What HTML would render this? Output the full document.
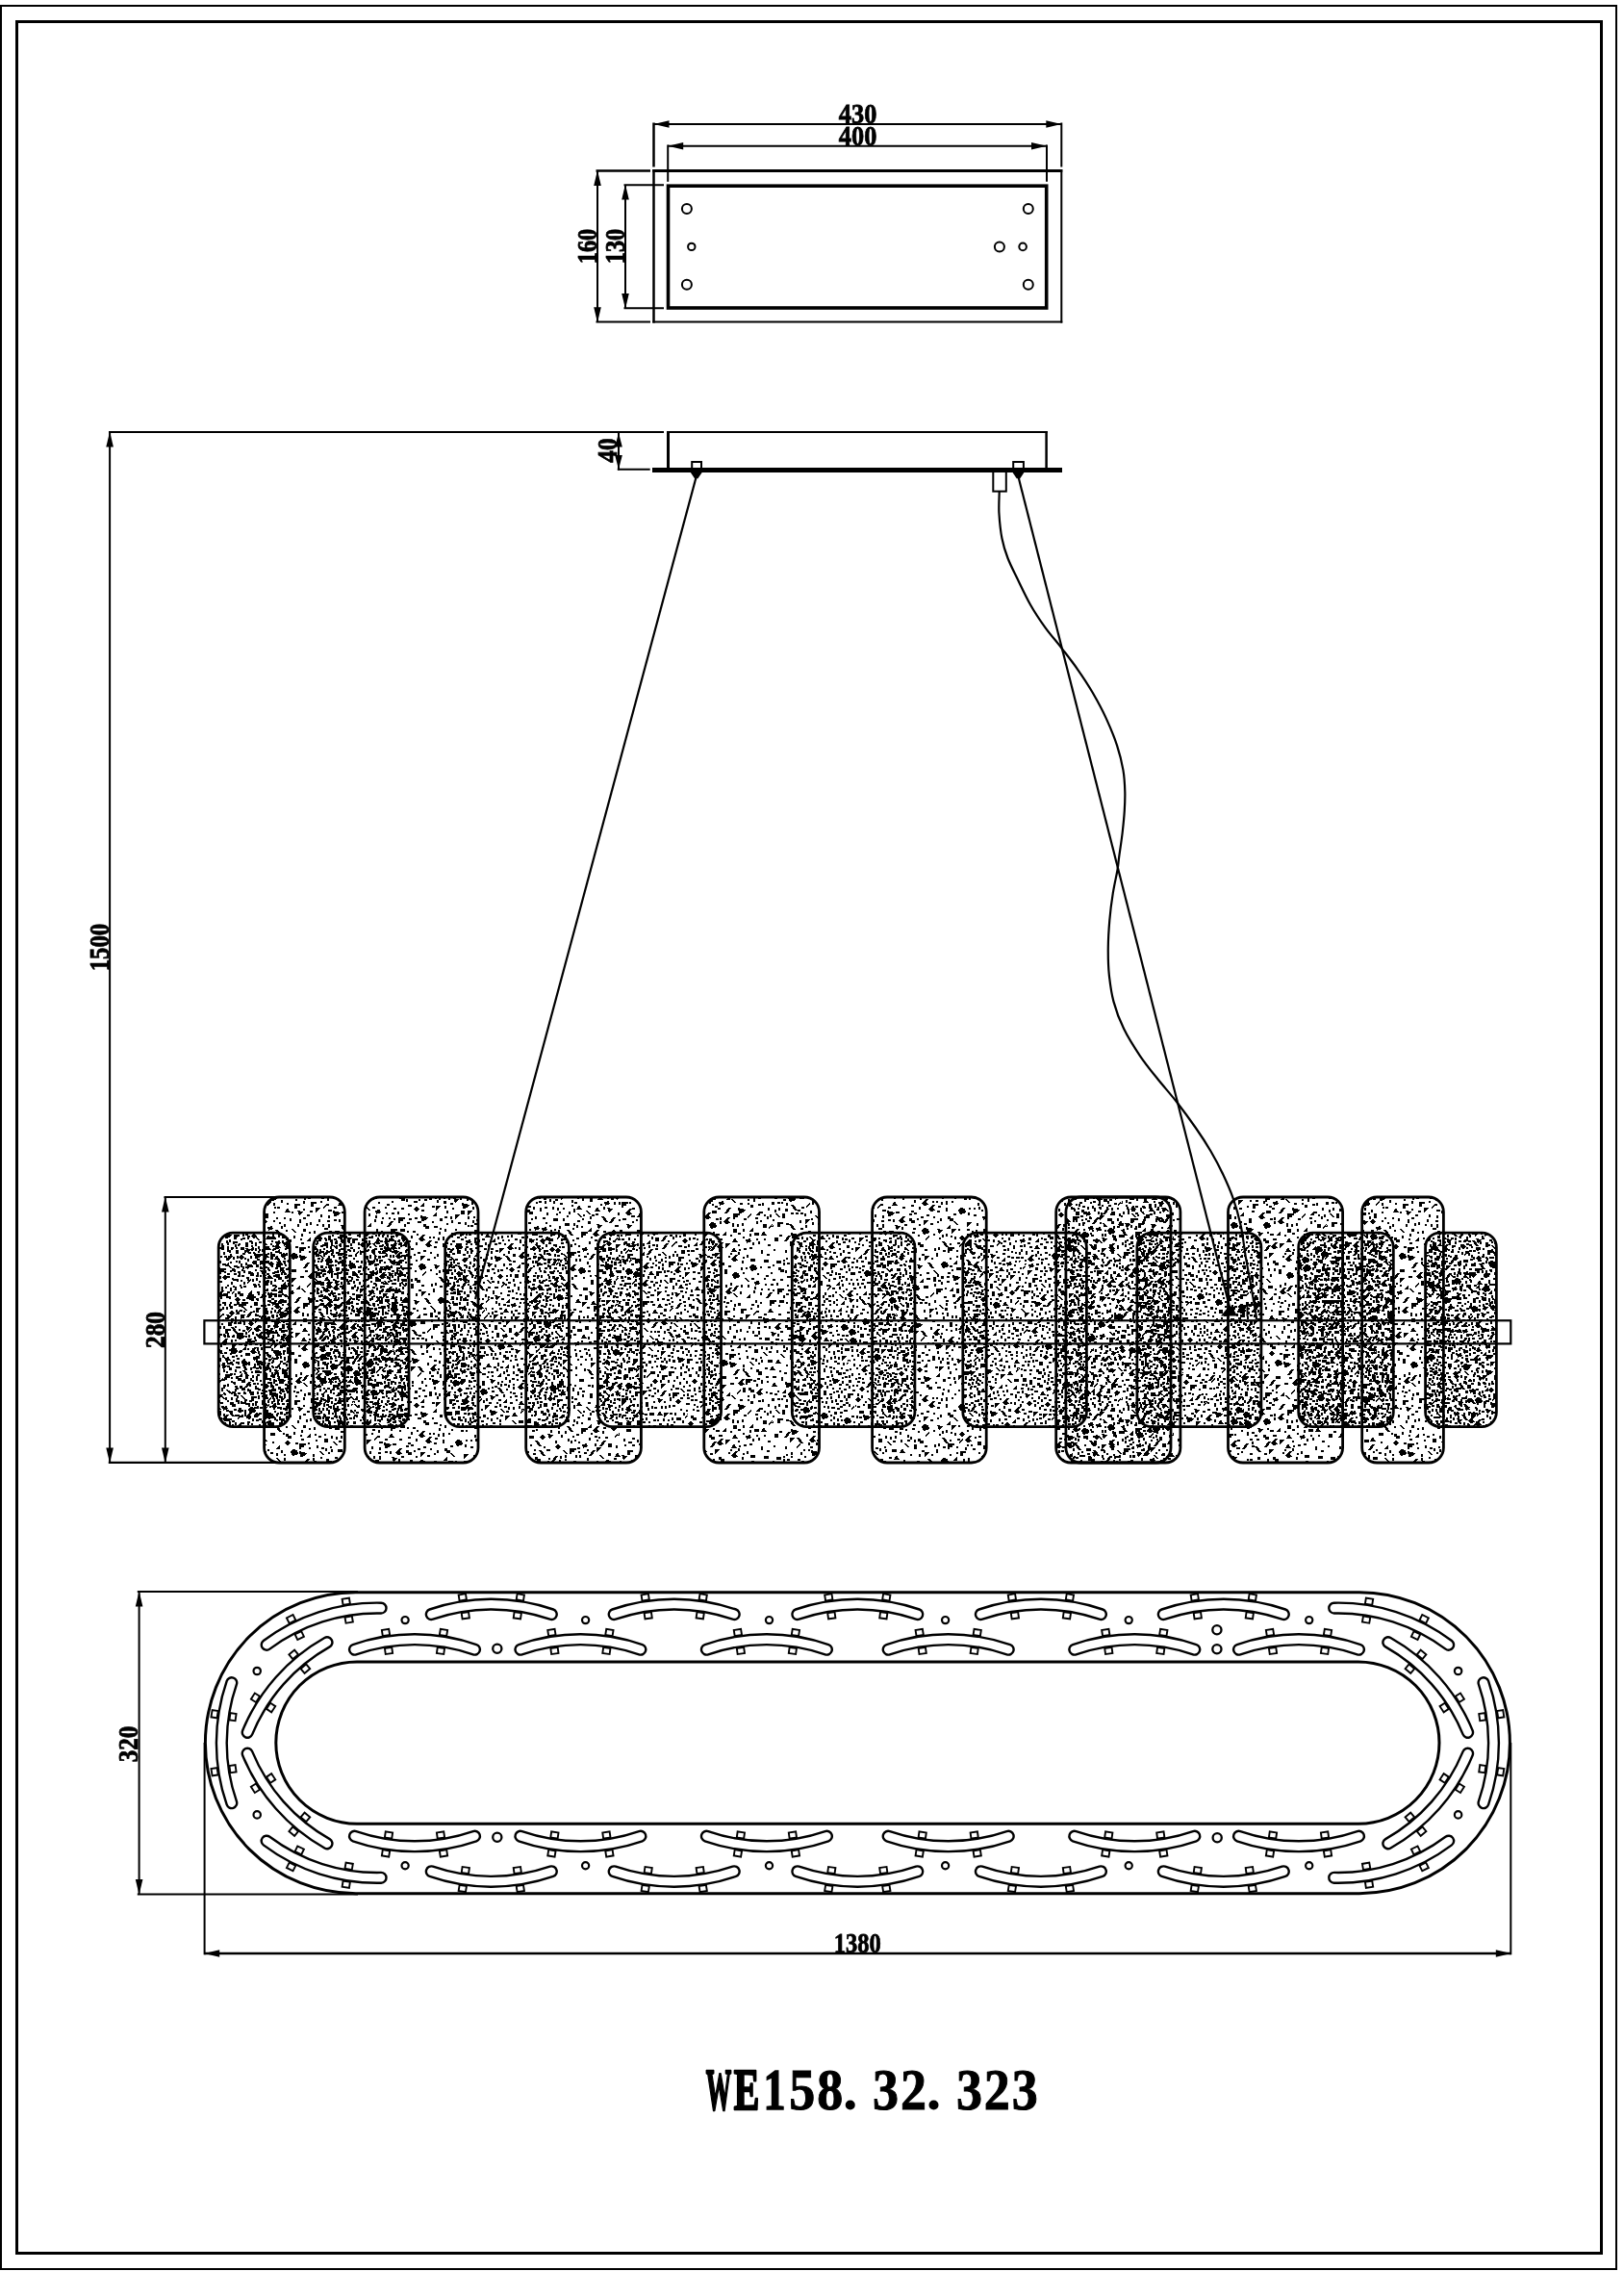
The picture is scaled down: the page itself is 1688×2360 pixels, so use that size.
<!DOCTYPE html>
<html lang="en"><head><meta charset="utf-8"><title>WE158.32.323</title>
<style>
html,body{margin:0;padding:0;background:#fff;}
body{width:1688px;height:2360px;overflow:hidden;}
svg{display:block;filter:grayscale(1);}
svg *{stroke:#000;fill:none;stroke-linecap:butt;}
svg text,svg tspan{stroke:none;fill:#000;font-family:"Liberation Serif","DejaVu Serif",serif;font-weight:bold;}
svg .dt{font-size:29.6px;stroke:#000;stroke-width:0.8px;}
svg .ah{fill:#000;stroke:none;}
svg .dots{fill:#000;stroke:none;}
svg .np{stroke:none;}
</style></head><body>
<svg width="1688" height="2360" viewBox="0 0 1688 2360">
<rect class="np" x="0" y="0" width="1688" height="2360" style="fill:#fff"/>
<g id="borders">
<rect x="1" y="6" width="1679" height="2352" fill="none" stroke-width="2"/>
<rect x="17.5" y="22.5" width="1647" height="2319" fill="none" stroke-width="3"/>
</g>
<g id="topview">
<line x1="678.3" y1="177.5" x2="1104.3" y2="177.5" stroke-width="3"/>
<line x1="679.5" y1="176" x2="679.5" y2="335.6" stroke-width="2.5"/>
<line x1="1103.3" y1="176" x2="1103.3" y2="335.6" stroke-width="2"/>
<line x1="678.3" y1="334.6" x2="1104.3" y2="334.6" stroke-width="2"/>
<rect x="694.5" y="193.2" width="393.2" height="126.8" fill="none" stroke-width="3.6"/>
<circle cx="713.9" cy="217" r="5" stroke-width="2"/>
<circle cx="713.9" cy="295.7" r="5" stroke-width="2"/>
<circle cx="718.8" cy="256.4" r="3.7" stroke-width="2"/>
<circle cx="1068.8" cy="217" r="5" stroke-width="2"/>
<circle cx="1068.8" cy="295.7" r="5" stroke-width="2"/>
<circle cx="1038.9" cy="256.4" r="5" stroke-width="2"/>
<circle cx="1063.1" cy="256.4" r="3.8" stroke-width="2"/>
<line x1="679.5" y1="127.5" x2="679.5" y2="173.5" stroke-width="2.5"/>
<line x1="1103.3" y1="127.5" x2="1103.3" y2="173.5" stroke-width="2"/>
<line x1="679.5" y1="129" x2="1103.3" y2="129" stroke-width="2"/>
<polygon class="ah" points="679.5,129 695.5,125.2 695.5,132.8"/>
<polygon class="ah" points="1103.3,129 1087.3,132.8 1087.3,125.2"/>
<text class="dt" x="891.6" y="127.6" text-anchor="middle" textLength="39.5" lengthAdjust="spacingAndGlyphs">430</text>
<line x1="694.2" y1="150.5" x2="694.2" y2="188.8" stroke-width="2"/>
<line x1="1088" y1="150.5" x2="1088" y2="188.8" stroke-width="2"/>
<line x1="694.2" y1="151.7" x2="1088" y2="151.7" stroke-width="2"/>
<polygon class="ah" points="694.2,151.7 710.2,147.9 710.2,155.5"/>
<polygon class="ah" points="1088,151.7 1072,155.5 1072,147.9"/>
<text class="dt" x="891.6" y="150.6" text-anchor="middle" textLength="39.5" lengthAdjust="spacingAndGlyphs">400</text>
<line x1="619.5" y1="177.5" x2="676" y2="177.5" stroke-width="2.5"/>
<line x1="619.5" y1="334.6" x2="676" y2="334.6" stroke-width="2"/>
<line x1="621" y1="177.5" x2="621" y2="334.6" stroke-width="2"/>
<polygon class="ah" points="621,177 624.8,193 617.2,193"/>
<polygon class="ah" points="621,335.2 617.2,319.2 624.8,319.2"/>
<text class="dt" transform="translate(619.6 256) rotate(-90)" text-anchor="middle" textLength="36.5" lengthAdjust="spacingAndGlyphs">160</text>
<line x1="648.5" y1="192.2" x2="690" y2="192.2" stroke-width="2"/>
<line x1="648.5" y1="320.3" x2="690" y2="320.3" stroke-width="2"/>
<line x1="650" y1="192.2" x2="650" y2="320.3" stroke-width="2"/>
<polygon class="ah" points="650,191.5 653.8,207.5 646.2,207.5"/>
<polygon class="ah" points="650,321 646.2,305 653.8,305"/>
<text class="dt" transform="translate(648.8 256) rotate(-90)" text-anchor="middle" textLength="36.5" lengthAdjust="spacingAndGlyphs">130</text>
</g>
<defs>
<pattern id="pS" width="288" height="204" patternUnits="userSpaceOnUse"><path class="dots" shape-rendering="crispEdges" d="M202 166h2v2h-2zM48 93h2v3h-2zM109 9m4 0l3 0l-4 6l-3 0zM35 61h3v2h-3zM30 144h3v2h-3zM148 107h2v4h-2zM157 143h2v2h-2zM52 148h3v5h-3zM190 24m3 0l3 5l-6 0zM30 158h4v2h-4zM272 109h2v3h-2zM232 92m0 4l4 -4l3 0l-2 3l2 3l-5 1zM124 20h2v2h-2zM253 87m4 0l3 0l-4 6l-3 0zM37 30h3v2h3v3h-4v-2h-2zM175 38h2v4h-2zM20 171h7v2h-2v2h-3v2h-2zM160 87h2v3h-2zM233 17l3 0l4 6l-3 0zM242 178m5 0l0 5l-5 0zM158 165m0 1l5 -1l1 3l-5 2zM145 183m0 4l4 -4l3 0l-2 3l2 3l-5 1zM177 5h2v3h-2zM86 156l8 2l-2 3l-5 1zM111 196h2v2h-2zM126 101h2v3h-2zM41 42h3v2h-3zM142 35h2v3h-2zM212 91m5 0l0 5l-5 0zM118 38m2 0l5 1l1 4l-6 2l-2 -4zM118 168h2v2h-2zM93 67h3v2h-3zM214 136h2v2h-2zM163 32h2v3h-2zM27 116m4 0l3 0l-4 6l-3 0zM203 102m2 0l5 1l1 4l-6 2l-2 -4zM205 15h3v2h-3zM225 41h2v2h-2zM26 26h2v3h-2zM274 25h2v2h-2zM36 53l6 1l-4 4zM129 88h5v3h-5zM62 29l3 0l4 6l-3 0zM245 123m0 4l4 -4l3 0l-2 3l2 3l-5 1zM52 191h2v2h-2zM105 135h2v2h-2zM278 6h2v3h-2zM46 178h3v2h3v3h-4v-2h-2zM187 42m4 0l3 0l-4 6l-3 0zM272 138h2v2h-2zM114 156m0 2l3 -2l3 2l-3 4zM14 202h4v2h-4zM14 -2h4v2h-4zM99 177h3v2h-3zM228 185l8 2l-2 3l-5 1zM100 86h3v2h-3zM0 122h2v3h-2zM43 169l8 2l-2 3l-5 1zM102 122h3v2h-3zM170 22h7v2h-2v2h-3v2h-2zM237 102m2 0l5 1l1 4l-6 2l-2 -4zM81 43h6v2h-3v3h-3zM77 151l6 1l-4 4zM242 168h5v3h-5zM280 140h5v3h-5zM52 134h2v2h-2zM222 49h5v3h-5zM14 64m3 0l3 5l-6 0zM123 195h2v3h-2zM278 107m5 0l0 5l-5 0zM181 117m0 1l5 -1l1 3l-5 2zM215 128m4 0l3 0l-4 6l-3 0zM268 130h2v2h-2zM88 36h2v2h-2zM284 15h4v2h-4zM-4 15h4v2h-4zM271 142h2v3h-2zM21 197h3v2h-3zM287 7h3v2h-3zM-1 7h3v2h-3zM226 83h6v2h-3v3h-3zM262 51m4 0l3 0l-4 6l-3 0zM260 136m0 4l4 -4l3 0l-2 3l2 3l-5 1zM126 178m4 0l3 0l-4 6l-3 0zM286 51h3v3h-3zM-2 51h3v3h-3zM213 31h5v3h-5zM37 171h3v2h-3zM108 171h2v2h-2zM79 183h2v2h-2zM73 64l8 2l-2 3l-5 1zM249 41m2 0l5 1l1 4l-6 2l-2 -4zM206 86h2v3h-2zM163 23h3v2h-3zM173 141l6 1l-4 4zM196 84h4v2h-4zM262 16h3v3h-3zM53 21h2v2h-2zM132 103h7v2h-2v2h-3v2h-2zM253 179h2v3h-2zM29 176h3v2h-3zM137 4h2v2h-2zM42 155m5 0l0 5l-5 0zM135 31h6v2h-3v3h-3zM66 11m5 0l0 5l-5 0zM56 41h2v4h-2zM103 79h2v2h-2zM105 74m4 0l3 0l-4 6l-3 0zM91 69h2v3h-2zM128 9h2v2h-2zM243 62m4 0l3 0l-4 6l-3 0zM221 168h4v4h-4zM259 78l2 0l4 4l-2 0zM175 50l5 0l-5 5zM7 18h5v3h-5zM195 129h2v3h-2zM94 40h3v2h-3zM134 93h2v2h-2zM111 91h3v2h3v3h-4v-2h-2zM195 21h3v2h-3zM102 63l0 2l4 -4l0 -2zM46 67h4v2h-4zM204 150h5v3h-5zM153 77h2v2h-2zM270 192h6v2h-3v3h-3zM199 195h2v3h-2zM76 72h3v2h-3zM22 183h5v3h-5zM258 35h7v2h-2v2h-3v2h-2zM8 175m4 0l3 0l-4 6l-3 0zM43 7l5 0l-5 5zM184 26h2v3h-2zM250 67l5 0l-5 5zM257 137h2v2h-2zM33 190h2v3h-2zM38 67m5 0l0 5l-5 0zM118 189h2v2h-2zM252 97m0 4l4 -4l3 0l-2 3l2 3l-5 1zM147 196h2v3h-2zM101 19h2v3h-2zM130 166m0 2l3 -2l3 2l-3 4zM68 3h3v2h3v3h-4v-2h-2zM137 172l2 0l4 4l-2 0zM250 74h2v2h-2zM237 119h3v2h3v3h-4v-2h-2zM242 4h2v2h-2zM259 115h2v2h-2zM107 53m2 0l5 1l1 4l-6 2l-2 -4zM72 191h2v2h-2zM67 154h3v3h-3zM143 28m4 0l3 0l-4 6l-3 0zM254 124l5 0l-5 5zM154 186m2 0l5 1l1 4l-6 2l-2 -4zM192 80h3v2h-3zM0 83h3v2h-3zM61 50m2 0l5 1l1 4l-6 2l-2 -4zM39 92h3v2h-3zM24 71m5 0l0 5l-5 0zM146 162h2v3h-2zM136 111l5 0l-5 5zM191 200h2v4h-2zM191 -4h2v4h-2zM204 141l6 1l-4 4zM70 164h2v3h-2zM212 87h3v2h-3zM247 142h3v2h3v3h-4v-2h-2zM85 164h4v4h-4zM170 194l2 0l4 4l-2 0zM280 49h2v2h-2zM188 66h2v2h-2zM10 191m3 0l3 5l-6 0zM211 190m2 0l5 1l1 4l-6 2l-2 -4zM138 86l2 0l4 4l-2 0zM142 147l3 0l4 6l-3 0zM11 32h3v2h-3zM242 150h2v3h-2zM200 135h4v2h-4zM127 200m0 4l4 -4l3 0l-2 3l2 3l-5 1zM127 -4m0 4l4 -4l3 0l-2 3l2 3l-5 1zM77 133h2v2h-2zM0 200h4v2h-4zM0 -4h4v2h-4zM19 165h2v3h-2zM128 135h5v3h-5zM98 99h2v3h-2zM0 2h2v3h-2zM142 80l2 0l4 4l-2 0zM243 134l5 0l-5 5zM14 105h2v2h-2zM28 5h3v2h3v3h-4v-2h-2zM215 20h2v3h-2zM173 183h2v2h-2zM202 50h2v3h-2zM159 196h2v2h-2zM238 56l5 0l-5 5zM55 159h3v2h-3zM114 124h2v4h-2zM28 152h2v3h-2zM27 54h3v2h-3zM72 106h2v3h-2zM94 100h2v2h-2zM84 84h2v2h-2zM193 95h3v3h-3zM86 27m0 4l4 -4l3 0l-2 3l2 3l-5 1zM41 89h3v2h-3zM287 194h2v2h-2zM-1 194h2v2h-2zM158 110h3v2h-3zM242 50h2v3h-2zM98 82h3v2h-3zM15 161h3v2h-3zM207 10h2v3h-2zM32 15h3v2h-3zM171 157h3v2h-3zM162 70h2v3h-2zM155 177h2v3h-2zM167 81l5 0l-5 5zM40 131l0 2l4 -4l0 -2zM228 44h3v2h-3zM235 158h3v2h-3zM275 198l5 0l-5 5zM275 -6l5 0l-5 5zM224 63m3 0l3 5l-6 0zM167 16m3 0l3 5l-6 0zM259 134h2v2h-2zM237 9h2v2h-2zM118 114h3v2h-3zM150 59m0 1l5 -1l1 3l-5 2zM229 154h2v2h-2zM3 27h2v3h-2zM22 52h2v2h-2zM104 2m0 1l5 -1l1 3l-5 2zM32 104l3 0l4 6l-3 0zM281 39h3v2h-3zM83 101h6v2h-3v3h-3zM145 170h7v2h-2v2h-3v2h-2zM212 106h3v3h-3zM3 111m3 0l3 5l-6 0zM235 197h3v2h-3zM26 141h2v2h-2zM45 146h3v2h-3zM258 43l8 2l-2 3l-5 1zM82 133h3v2h-3zM55 98h2v2h-2zM154 32h2v4h-2zM247 80m0 1l5 -1l1 3l-5 2zM242 46h2v2h-2zM63 38h3v2h-3zM98 10h2v3h-2zM281 160h3v2h-3zM157 149h7v2h-2v2h-3v2h-2zM188 114h3v2h-3zM234 45h2v3h-2zM187 23h3v2h-3zM261 168m4 0l3 0l-4 6l-3 0zM66 21h2v3h-2zM193 167h2v3h-2zM99 33h4v4h-4zM147 203l3 0l4 6l-3 0zM147 -1l3 0l4 6l-3 0zM113 16h2v3h-2zM233 36m5 0l0 5l-5 0zM106 151h3v2h-3zM121 81h2v3h-2zM167 96h3v2h-3zM58 196h3v2h-3zM231 142h3v3h-3zM190 67m2 0l5 1l1 4l-6 2l-2 -4zM74 92h3v2h-3zM226 58h2v2h-2zM148 157h2v2h-2zM262 93h7v2h-2v2h-3v2h-2zM250 58h5v3h-5zM155 27h3v2h-3zM114 105l0 2l4 -4l0 -2zM104 93h5v3h-5zM76 115h2v2h-2zM74 170h2v3h-2zM179 152h2v3h-2zM0 11h2v4h-2zM207 47h2v2h-2zM53 3h2v2h-2zM259 165h2v3h-2zM192 111l6 1l-4 4zM41 189m0 4l4 -4l3 0l-2 3l2 3l-5 1zM115 26h3v5h-3zM19 31h2v3h-2zM134 182h2v3h-2zM283 173h2v3h-2zM-5 173h2v3h-2zM135 75h2v3h-2zM167 49h2v2h-2zM108 100h3v2h-3zM70 177h2v2h-2zM186 51h2v3h-2zM57 8h2v2h-2zM244 25h3v2h3v3h-4v-2h-2zM133 5h3v2h-3zM211 7l6 1l-4 4zM177 120h2v2h-2zM223 0h3v5h-3zM253 151h3v5h-3zM133 147h2v3h-2zM109 179h3v2h3v3h-4v-2h-2zM44 108h3v2h-3zM190 52l6 1l-4 4zM279 128h3v2h-3zM119 117h2v3h-2zM17 89h2v3h-2zM79 115m4 0l3 0l-4 6l-3 0zM86 118m0 2l3 -2l3 2l-3 4zM118 32h3v2h-3zM121 129h2v3h-2zM167 154h2v2h-2zM100 27h3v2h-3zM143 52h4v4h-4zM17 3m0 4l4 -4l3 0l-2 3l2 3l-5 1zM207 1h2v3h-2zM215 58h7v2h-2v2h-3v2h-2zM92 164l5 0l-5 5zM160 66h3v2h-3zM128 108h3v5h-3zM209 132h4v2h-4zM167 199h3v5h-3zM167 -5h3v5h-3zM262 4h3v2h-3zM267 87l8 2l-2 3l-5 1zM107 175h3v2h-3zM62 186h2v3h-2zM28 64l8 2l-2 3l-5 1zM180 148h3v2h-3zM112 100h2v3h-2zM66 198h2v4h-2zM66 -6h2v4h-2zM98 120h2v3h-2zM239 75h7v2h-2v2h-3v2h-2zM240 90h5v3h-5zM218 173h3v2h-3zM143 91h2v2h-2zM164 122h3v2h-3zM155 98h5v3h-5zM176 162m4 0l3 0l-4 6l-3 0zM95 198h2v2h-2zM95 -6h2v2h-2zM106 103h2v4h-2zM101 126h3v2h3v3h-4v-2h-2zM284 30h4v4h-4zM-4 30h4v4h-4zM71 121h2v2h-2zM247 119h4v2h-4zM3 41h2v3h-2zM254 170m0 4l4 -4l3 0l-2 3l2 3l-5 1zM38 46h2v3h-2zM73 8l2 0l4 4l-2 0zM64 86h3v2h-3zM187 87h2v3h-2zM283 197l0 2l4 -4l0 -2zM-5 197l0 2l4 -4l0 -2zM20 102h6v2h-3v3h-3zM279 146m2 0l5 1l1 4l-6 2l-2 -4zM30 201h3v2h-3zM30 -3h3v2h-3zM192 157l0 2l4 -4l0 -2zM6 94h2v2h-2zM94 107h3v2h3v3h-4v-2h-2zM220 144h2v2h-2zM215 147h4v2h-4zM62 22h2v3h-2zM66 120h2v2h-2zM124 115h2v3h-2zM25 93h3v5h-3zM43 75h5v3h-5zM235 171l3 0l4 6l-3 0zM7 166h2v2h-2zM84 124h2v3h-2zM188 147m0 2l3 -2l3 2l-3 4zM185 165h4v4h-4zM244 98h3v2h-3zM139 200m0 4l4 -4l3 0l-2 3l2 3l-5 1zM139 -4m0 4l4 -4l3 0l-2 3l2 3l-5 1zM164 67h2v2h-2zM140 140h5v3h-5zM248 97h2v3h-2zM44 137h2v3h-2zM103 48l0 2l4 -4l0 -2zM92 179h2v2h-2zM183 103h2v3h-2zM176 71h2v2h-2zM248 150h2v3h-2zM67 65h3v2h-3zM249 16l2 0l4 4l-2 0zM163 144m5 0l0 5l-5 0zM189 60h2v2h-2zM88 9l5 0l-5 5zM101 173h2v2h-2zM53 120m0 4l4 -4l3 0l-2 3l2 3l-5 1zM199 31h3v2h-3zM86 112h3v2h-3zM6 119h2v2h-2zM18 40m3 0l3 5l-6 0zM228 24h5v3h-5zM165 59h3v2h-3zM73 84h3v3h-3zM151 85h2v3h-2zM108 143m0 1l5 -1l1 3l-5 2zM61 65h3v3h-3zM49 99l5 0l-5 5zM29 185h2v2h-2zM146 47h2v3h-2zM209 55h2v2h-2zM70 46h2v2h-2zM89 50h2v4h-2zM253 194h6v2h-3v3h-3zM157 51m3 0l3 5l-6 0zM266 104h2v3h-2zM252 23h2v3h-2zM68 170h3v2h-3zM187 9h2v2h-2zM2 91h3v2h-3zM125 82h2v3h-2zM31 74m2 0l5 1l1 4l-6 2l-2 -4zM228 131l3 0l4 6l-3 0zM267 61m0 4l4 -4l3 0l-2 3l2 3l-5 1zM62 103h2v2h-2zM199 177l6 1l-4 4zM269 9h2v3h-2zM223 144h3v2h-3zM75 174h2v3h-2zM55 135l8 2l-2 3l-5 1zM232 162h3v2h-3zM20 73h2v2h-2zM137 21h2v3h-2zM150 104h2v2h-2zM124 188m5 0l0 5l-5 0zM147 116h2v3h-2zM113 48h3v2h-3zM138 72l2 0l4 4l-2 0zM151 14m3 0l3 5l-6 0zM225 90h3v2h-3zM103 157h5v3h-5zM265 24m5 0l0 5l-5 0zM60 127h2v3h-2zM76 106h2v3h-2zM155 37h2v3h-2zM118 22h3v2h-3zM104 109m0 2l3 -2l3 2l-3 4zM13 12l6 1l-4 4zM153 137h3v2h-3zM199 118h7v2h-2v2h-3v2h-2zM175 177l2 0l4 4l-2 0zM87 92h4v2h-4zM159 131h2v2h-2zM215 161h2v3h-2zM54 90h2v3h-2zM100 44h2v2h-2zM267 125h2v2h-2zM165 36h2v3h-2zM230 159h2v2h-2zM225 13m0 1l5 -1l1 3l-5 2zM88 80h2v3h-2zM155 107h3v2h-3zM211 79l5 0l-5 5zM248 5h2v3h-2zM44 44l5 0l-5 5zM95 1h3v2h-3zM273 98h3v2h-3zM33 31h2v3h-2zM283 62h3v2h-3zM-5 62h3v2h-3zM145 88h3v2h-3zM123 180h2v2h-2zM284 113h5v3h-5zM-4 113h5v3h-5zM81 94h2v4h-2zM207 96h2v3h-2zM152 121m3 0l3 5l-6 0zM231 172h2v4h-2zM133 152h2v3h-2zM108 32h2v3h-2zM197 7h3v3h-3zM159 3h5v3h-5zM90 198h2v2h-2zM90 -6h2v2h-2zM115 73h6v2h-3v3h-3zM204 72h2v3h-2zM67 70h3v2h-3zM179 105h3v2h-3zM236 63h2v3h-2zM58 69h3v2h-3zM194 189h5v3h-5zM91 144h3v2h-3zM21 149h3v2h3v3h-4v-2h-2zM107 198h3v2h-3zM107 -6h3v2h-3zM213 177h6v2h-3v3h-3zM286 66h2v3h-2zM-2 66h2v3h-2zM120 139h2v2h-2zM249 171h2v2h-2zM3 131h2v4h-2zM72 150h2v3h-2zM184 124l6 1l-4 4zM158 114h2v3h-2zM166 113h3v5h-3zM148 43h3v3h-3zM55 165m5 0l0 5l-5 0zM269 174h2v3h-2zM129 61h3v2h-3zM70 113h3v5h-3zM97 55l3 0l4 6l-3 0zM217 36m4 0l3 0l-4 6l-3 0zM28 131h2v3h-2zM277 82h2v2h-2zM273 160l2 0l4 4l-2 0zM41 15m2 0l5 1l1 4l-6 2l-2 -4zM280 191h2v2h-2zM68 128m0 4l4 -4l3 0l-2 3l2 3l-5 1zM278 43l2 0l4 4l-2 0zM243 198m3 0l3 5l-6 0zM243 -6m3 0l3 5l-6 0zM29 103h3v2h-3zM187 190h3v5h-3zM10 148h3v2h-3zM194 36h3v3h-3zM275 176m5 0l0 5l-5 0zM18 19h4v2h-4zM201 58m0 4l4 -4l3 0l-2 3l2 3l-5 1zM159 33h2v2h-2zM169 147m0 4l4 -4l3 0l-2 3l2 3l-5 1zM170 58h3v2h-3zM23 161h3v2h-3zM270 149h2v3h-2zM120 89h2v2h-2zM3 171h2v2h-2zM33 36h3v5h-3zM129 186h3v2h-3zM182 198m0 4l4 -4l3 0l-2 3l2 3l-5 1zM182 -6m0 4l4 -4l3 0l-2 3l2 3l-5 1zM137 60h2v2h-2zM144 128h2v3h-2zM24 20h2v2h-2zM165 7l6 1l-4 4zM13 166h3v2h-3zM172 44l0 2l4 -4l0 -2zM6 6h3v2h-3zM80 23m0 2l3 -2l3 2l-3 4zM183 92h6v2h-3v3h-3zM286 71m0 4l4 -4l3 0l-2 3l2 3l-5 1zM-2 71m0 4l4 -4l3 0l-2 3l2 3l-5 1zM90 188h2v2h-2zM109 162l3 0l4 6l-3 0zM205 172h6v2h-3v3h-3zM116 144m0 1l5 -1l1 3l-5 2zM166 194h2v2h-2zM80 122h2v3h-2zM69 76m5 0l0 5l-5 0zM184 11h2v2h-2zM180 24h2v3h-2zM203 23m0 4l4 -4l3 0l-2 3l2 3l-5 1zM120 51m0 1l5 -1l1 3l-5 2zM24 81h2v2h-2zM61 124h2v2h-2zM276 37h2v3h-2zM185 68h2v3h-2zM280 84h3v3h-3zM209 36h3v2h-3zM122 155l6 1l-4 4zM193 61h3v3h-3zM181 182m2 0l5 1l1 4l-6 2l-2 -4zM136 156h2v3h-2zM36 160m0 2l3 -2l3 2l-3 4zM178 133l3 0l4 6l-3 0zM72 16l5 0l-5 5zM186 134m4 0l3 0l-4 6l-3 0zM267 133h2v3h-2zM57 115h3v2h-3zM132 14h4v2h-4zM278 70h3v2h3v3h-4v-2h-2zM123 67m5 0l0 5l-5 0zM190 11h3v2h-3zM180 61m5 0l0 5l-5 0zM190 16h2v3h-2zM13 27h2v3h-2zM203 125m0 4l4 -4l3 0l-2 3l2 3l-5 1zM171 123m3 0l3 5l-6 0zM95 137h2v2h-2zM152 142h2v3h-2zM26 78h3v2h-3zM223 138h3v2h-3zM191 118h2v3h-2zM284 169h2v3h-2zM-4 169h2v3h-2zM149 51h3v2h-3zM29 46h2v2h-2zM287 188h2v3h-2zM-1 188h2v3h-2zM113 172l3 0l4 6l-3 0zM103 200h2v2h-2zM103 -4h2v2h-2zM212 57h2v2h-2zM150 194h3v2h-3zM163 180h2v3h-2zM220 85h2v2h-2zM47 51l3 0l4 6l-3 0zM240 69h2v2h-2zM230 123h3v2h-3zM35 185h3v2h-3zM49 105h2v3h-2zM122 29h2v2h-2zM259 65h4v2h-4zM145 103h2v2h-2zM250 202h2v2h-2zM250 -2h2v2h-2zM50 10h3v2h-3zM75 187h2v2h-2zM254 34h3v2h-3zM222 98h3v5h-3zM118 61m5 0l0 5l-5 0zM287 60h3v2h-3zM-1 60h3v2h-3zM194 103m0 2l3 -2l3 2l-3 4zM173 169l5 0l-5 5zM8 28h2v3h-2zM95 179h3v2h-3zM275 61h7v2h-2v2h-3v2h-2zM201 78h2v3h-2zM0 44h2v2h-2zM229 79h3v2h-3zM73 48m5 0l0 5l-5 0zM143 160h2v3h-2zM95 69l8 2l-2 3l-5 1zM161 11h3v5h-3zM56 78h7v2h-2v2h-3v2h-2zM174 102h2v3h-2zM179 47h3v2h-3zM211 17h2v2h-2zM77 56h5v3h-5zM111 0m0 2l3 -2l3 2l-3 4zM228 70h2v4h-2zM275 119m0 1l5 -1l1 3l-5 2zM150 161h2v2h-2zM140 185h2v3h-2zM220 116h2v4h-2zM39 188h2v2h-2zM100 197h2v3h-2zM285 90m5 0l0 5l-5 0zM-3 90m5 0l0 5l-5 0zM181 78m0 2l3 -2l3 2l-3 4zM89 176h2v3h-2zM232 197h2v2h-2zM243 32m0 2l3 -2l3 2l-3 4zM142 132h2v2h-2zM196 41h2v3h-2zM68 35h7v2h-2v2h-3v2h-2zM273 18h2v3h-2zM3 62h2v4h-2zM225 194l0 2l4 -4l0 -2zM122 183h2v3h-2zM2 100h2v2h-2zM284 163m0 1l5 -1l1 3l-5 2zM-4 163m0 1l5 -1l1 3l-5 2zM245 193h2v2h-2zM1 18h3v2h-3zM12 47m3 0l3 5l-6 0zM219 28m3 0l3 5l-6 0zM151 37h3v2h-3zM38 11h2v2h-2zM109 133h2v3h-2zM107 194h3v2h-3zM140 63m0 2l3 -2l3 2l-3 4zM10 87h2v3h-2zM175 203l5 0l-5 5zM175 -1l5 0l-5 5zM275 31h2v2h-2zM224 157h3v5h-3zM34 137h2v3h-2zM261 176l2 0l4 4l-2 0zM15 99h2v2h-2zM37 22h2v2h-2zM66 90h3v2h-3zM128 94h2v3h-2zM57 63h2v3h-2zM134 1h3v2h-3zM241 112h2v2h-2zM97 17h2v2h-2zM135 119h3v2h-3zM164 189h3v2h-3zM98 77h2v2h-2zM33 122l5 0l-5 5zM122 0h2v2h-2zM267 34h2v2h-2zM85 59m0 1l5 -1l1 3l-5 2zM231 202h2v2h-2zM231 -2h2v2h-2zM114 38h2v3h-2zM8 74h2v2h-2zM153 169h3v2h-3zM129 146h2v2h-2zM119 94h2v2h-2zM201 94h3v5h-3zM149 140h2v3h-2zM130 41h3v2h3v3h-4v-2h-2zM88 21h2v2h-2zM121 4h2v3h-2zM83 67m5 0l0 5l-5 0zM26 178h2v3h-2zM96 154h2v4h-2zM8 58h3v2h-3zM241 24h2v2h-2zM241 144h2v3h-2zM98 149h2v2h-2zM15 58h4v2h-4zM77 44h2v2h-2zM259 183h2v2h-2zM223 123h3v2h-3zM44 163h3v2h-3zM19 142h5v3h-5zM17 76h3v2h-3zM83 136m0 2l3 -2l3 2l-3 4zM173 92h3v2h-3zM66 191h2v4h-2zM54 131h3v2h-3zM28 0h3v2h-3zM5 201l8 2l-2 3l-5 1zM5 -3l8 2l-2 3l-5 1zM180 100h2v3h-2zM77 78h3v5h-3zM68 61h3v2h-3zM28 88h3v3h-3zM277 167h2v3h-2zM254 189h2v2h-2zM205 79h3v2h-3zM163 88l3 0l4 6l-3 0zM116 53h2v2h-2zM17 118h4v4h-4zM12 183h7v2h-2v2h-3v2h-2zM168 131h3v2h-3zM261 118m3 0l3 5l-6 0zM239 13h2v3h-2zM56 191h2v2h-2zM110 69l0 2l4 -4l0 -2zM182 158h3v2h-3zM196 17h2v3h-2zM280 1h2v3h-2zM2 175h2v3h-2zM204 202h3v2h-3zM204 -2h3v2h-3zM34 92h3v2h-3zM82 176h3v2h-3zM54 36h2v3h-2zM91 152h2v2h-2zM184 30m3 0l3 5l-6 0zM119 123h3v2h-3zM231 112l6 1l-4 4zM256 201l6 1l-4 4zM256 -3l6 1l-4 4zM185 106l6 1l-4 4zM2 148h2v2h-2zM140 21l3 0l4 6l-3 0zM252 184h2v2h-2zM132 71h2v2h-2zM260 128m3 0l3 5l-6 0zM13 22h3v2h-3zM110 118h2v2h-2zM95 128h4v4h-4zM196 136h2v2h-2zM160 174h3v2h-3zM197 147h3v2h-3zM14 81h3v3h-3zM121 171h4v2h-4zM272 46h2v3h-2zM91 57h2v2h-2zM165 172m4 0l3 0l-4 6l-3 0zM11 6h2v3h-2zM77 38h2v2h-2zM120 108h2v2h-2zM123 91h2v2h-2zM45 86h3v2h-3zM262 109h4v4h-4zM261 103h2v4h-2zM46 61h3v2h-3zM220 17h3v2h-3zM29 139h2v2h-2zM129 49l2 0l4 4l-2 0zM79 168l5 0l-5 5zM272 50h2v3h-2zM247 186h2v2h-2zM11 107l0 2l4 -4l0 -2zM277 96l0 2l4 -4l0 -2zM130 162h2v3h-2zM138 124h2v2h-2zM173 107h2v2h-2zM31 172h3v2h-3zM260 30h3v2h-3zM225 130h3v2h-3zM130 5h2v3h-2zM185 3h3v2h-3zM53 66h3v5h-3zM94 94h2v2h-2zM58 95l2 0l4 4l-2 0zM207 66h3v3h-3zM68 183h2v3h-2zM102 139h3v2h-3zM30 167h2v2h-2zM36 5h2v2h-2zM282 123h2v3h-2zM-6 123h2v3h-2zM233 50l2 0l4 4l-2 0zM126 34m4 0l3 0l-4 6l-3 0zM207 40h3v2h-3zM217 47h2v4h-2zM246 72h2v2h-2zM111 80h2v3h-2zM87 74h5v3h-5zM210 44h5v3h-5zM98 112l0 2l4 -4l0 -2zM281 187h3v2h-3zM210 166h3v2h-3zM262 191h2v3h-2zM40 175h4v2h-4zM153 111h2v4h-2zM166 133h2v3h-2zM146 11h2v2h-2zM87 108h2v3h-2zM9 96h2v3h-2zM29 28h2v3h-2zM110 150h2v2h-2zM254 74m5 0l0 5l-5 0zM260 21h2v3h-2zM140 152h2v3h-2zM262 199h2v2h-2zM262 -5h2v2h-2zM243 85h3v2h-3zM268 39h2v2h-2zM114 84h2v3h-2zM50 118h2v3h-2zM79 138h3v2h-3zM148 145h2v2h-2zM170 65h4v2h-4zM231 7h2v2h-2zM212 101h3v2h-3zM4 82h2v3h-2zM52 127h2v3h-2zM30 195h3v2h-3zM9 135h3v2h-3zM26 31h3v2h-3zM157 58h2v2h-2zM156 82h2v2h-2zM238 138h3v2h-3zM65 98h3v3h-3zM144 74h3v2h-3zM52 59l2 0l4 4l-2 0zM43 100h2v3h-2zM228 119h3v2h-3zM244 156h2v3h-2zM58 149h2v3h-2zM72 141h2v2h-2zM136 47h2v2h-2zM220 200h2v3h-2zM220 -4h2v3h-2zM161 127l2 0l4 4l-2 0zM75 24h2v3h-2zM211 69h2v3h-2zM220 67h2v2h-2zM70 54h3v2h-3zM21 87h2v3h-2zM134 143h2v3h-2zM168 34h3v2h-3zM66 137l5 0l-5 5zM98 170h2v2h-2zM175 10h2v3h-2zM89 203h2v3h-2zM89 -1h2v3h-2zM10 125h3v2h-3zM185 175h3v3h-3zM276 11h2v2h-2zM196 118h2v3h-2zM140 7m5 0l0 5l-5 0zM138 135h2v3h-2zM259 26h2v2h-2zM206 33h2v3h-2zM235 165h2v2h-2zM106 85h2v3h-2zM171 165h2v3h-2zM218 160h3v2h-3zM200 37l0 2l4 -4l0 -2zM152 155h3v2h-3zM165 184h2v2h-2zM62 150h2v3h-2zM210 159h3v2h-3zM136 65h2v3h-2zM84 150h2v3h-2zM79 198m2 0l5 1l1 4l-6 2l-2 -4zM79 -6m2 0l5 1l1 4l-6 2l-2 -4zM217 165h2v2h-2zM131 196h3v2h-3zM165 72h2v3h-2zM239 42h2v3h-2zM13 154h2v2h-2zM65 77h2v2h-2zM48 195m0 4l4 -4l3 0l-2 3l2 3l-5 1zM164 104h3v2h-3zM51 46h2v2h-2zM140 177h2v3h-2zM271 103h2v3h-2zM127 26h2v4h-2zM161 77h2v2h-2zM17 93l2 0l4 4l-2 0zM230 33h2v2h-2zM229 165h2v3h-2zM106 61h3v2h-3zM110 104h3v2h-3zM135 178h2v3h-2zM37 147h3v3h-3zM12 75h3v2h-3zM270 167h2v3h-2zM272 70h3v5h-3zM107 19m0 4l4 -4l3 0l-2 3l2 3l-5 1zM285 40h2v3h-2zM-3 40h2v3h-2zM237 80h2v3h-2zM57 201h3v2h-3zM57 -3h3v2h-3zM266 1h3v2h-3zM173 161h2v2h-2zM10 41h5v3h-5zM97 160h2v3h-2zM217 203h2v2h-2zM217 -1h2v2h-2zM203 112h2v2h-2zM234 4h2v2h-2zM66 144h3v2h-3zM265 10h2v3h-2zM264 59h3v2h-3zM91 124h3v2h-3zM40 122l3 0l4 6l-3 0zM103 146h2v2h-2zM130 115h3v2h-3zM58 35h2v3h-2zM6 197h3v2h-3zM114 189h2v2h-2zM120 12l5 0l-5 5zM38 197h2v3h-2zM68 159h2v3h-2zM135 53m5 0l0 5l-5 0zM287 155h2v2h-2zM-1 155h2v2h-2zM54 73h2v3h-2zM195 154h2v3h-2zM133 80h2v3h-2zM239 161l2 0l4 4l-2 0zM154 173h2v2h-2zM158 18l5 0l-5 5zM235 149h2v2h-2zM154 163h2v2h-2zM201 0h3v2h-3zM256 11h2v3h-2zM176 31m0 1l5 -1l1 3l-5 2zM237 181h2v2h-2zM110 36h2v3h-2zM113 117h3v2h-3zM136 197h2v2h-2zM93 18h2v3h-2zM238 126m4 0l3 0l-4 6l-3 0zM131 130h2v2h-2zM250 111m5 0l0 5l-5 0zM74 136h2v3h-2zM132 57h2v3h-2zM269 201h3v2h-3zM269 -3h3v2h-3zM80 33l0 2l4 -4l0 -2zM105 37h2v4h-2zM143 15h2v3h-2zM99 184h3v3h-3zM61 71h2v3h-2zM219 107l8 2l-2 3l-5 1zM98 95h2v2h-2zM24 59h2v4h-2zM16 130h2v2h-2zM282 11h2v3h-2zM-6 11h2v3h-2zM83 144h2v3h-2zM57 143h2v3h-2zM47 134h2v2h-2zM105 16h2v4h-2zM44 92h3v2h-3zM76 161h2v2h-2zM132 124h2v3h-2zM57 180h4v2h-4zM56 102h2v3h-2zM85 188h3v2h-3zM92 170h2v3h-2zM31 19h3v2h-3zM2 185h2v2h-2zM39 63h2v2h-2zM40 3h3v2h-3zM261 154m2 0l5 1l1 4l-6 2l-2 -4zM127 55h2v2h-2zM63 130h2v4h-2zM70 31h2v2h-2zM150 118h3v2h-3zM150 67h2v2h-2zM74 0h3v2h-3zM238 186h2v2h-2zM254 167h2v3h-2zM15 146h2v2h-2zM6 160h2v2h-2zM218 188h3v2h-3zM269 82h3v2h-3zM203 188m5 0l0 5l-5 0zM60 5h2v3h-2zM67 150h2v2h-2zM174 16h3v2h-3zM183 56h2v2h-2zM266 75l0 2l4 -4l0 -2zM285 183h2v3h-2zM-3 183h2v3h-2zM9 63h2v2h-2zM29 82h2v3h-2zM136 98h2v2h-2zM223 79h2v2h-2zM151 93h2v2h-2zM218 151m3 0l3 5l-6 0zM191 180h3v2h-3zM192 174m3 0l3 5l-6 0zM195 89h4v4h-4zM167 76h2v3h-2zM268 19h2v2h-2zM155 68h2v2h-2zM255 185h3v2h-3zM163 171h2v2h-2zM209 182h3v2h-3zM180 8h2v2h-2zM205 53h3v2h-3zM59 159l5 0l-5 5zM2 38h2v2h-2zM165 159h2v3h-2zM192 142h4v2h-4zM278 27h3v2h-3zM161 43h4v4h-4zM147 121h2v2h-2zM66 93h2v3h-2zM50 85l0 2l4 -4l0 -2zM12 94h2v3h-2zM248 101h2v3h-2zM75 96h2v3h-2zM41 144h3v2h-3zM5 104h4v4h-4zM134 191h3v2h-3zM79 16h2v2h-2zM48 141h2v2h-2zM273 129h3v2h-3zM34 113l8 2l-2 3l-5 1zM267 186h3v3h-3zM71 23h2v2h-2zM52 111h3v2h-3zM15 172h2v2h-2zM124 74m4 0l3 0l-4 6l-3 0zM22 35l2 0l4 4l-2 0zM79 129h2v2h-2zM285 97h3v2h-3zM-3 97h3v2h-3zM34 141h2v2h-2zM6 141h5v3h-5zM189 102h3v2h-3zM286 119h2v2h-2zM-2 119h2v2h-2zM151 177h2v3h-2zM286 101h2v3h-2zM-2 101h2v3h-2zM258 6h2v4h-2zM97 174h2v3h-2zM46 1h3v2h-3zM60 153h2v3h-2zM240 83h2v2h-2zM213 198h2v3h-2zM213 -6h2v3h-2zM127 123h2v3h-2zM175 188h2v3h-2zM128 117h2v3h-2zM283 77h2v4h-2zM-5 77h2v4h-2zM45 26l0 2l4 -4l0 -2zM36 154h4v2h-4zM228 178h3v3h-3zM104 99h2v2h-2zM246 87h3v2h-3zM102 82h2v3h-2zM225 126h2v3h-2zM279 114h2v3h-2zM272 154h2v2h-2zM219 6m0 2l3 -2l3 2l-3 4zM231 64h3v2h-3zM229 54h2v2h-2zM4 33l2 0l4 4l-2 0zM55 175h2v2h-2zM125 147h2v2h-2zM0 53h4v4h-4zM117 199h3v2h-3zM117 -5h3v2h-3zM62 116h2v3h-2zM174 111m3 0l3 5l-6 0zM20 14h2v3h-2zM76 119h2v3h-2zM156 74h3v2h-3zM125 63h3v2h-3zM69 147h2v2h-2zM149 125h2v4h-2zM175 158h2v2h-2zM34 84l3 0l4 6l-3 0zM158 135h2v2h-2zM96 28h2v2h-2zM205 196h3v3h-3zM257 147h3v2h-3zM153 46h5v3h-5zM20 81h3v2h-3zM7 49h3v2h-3zM104 166h2v2h-2zM63 107h2v3h-2zM178 57h2v3h-2zM138 69h2v2h-2zM272 117h2v2h-2zM63 182h2v2h-2zM212 203h3v3h-3zM212 -1h3v3h-3zM225 116h3v2h-3zM44 37h3v2h-3zM26 144h2v3h-2zM92 36h2v2h-2zM84 51h2v3h-2zM121 8h2v2h-2zM180 123h2v3h-2zM226 183h3v2h-3zM140 181h2v2h-2zM151 71h2v4h-2zM149 25h3v2h-3zM197 183h2v2h-2zM239 190h2v3h-2zM276 136h2v3h-2zM284 25h2v2h-2zM-4 25h2v2h-2zM244 17h2v2h-2zM76 86m4 0l3 0l-4 6l-3 0zM124 142h2v2h-2zM155 10h3v2h-3zM18 23h2v3h-2zM134 128h2v2h-2zM117 134h3v2h-3zM214 114h2v2h-2zM78 30h3v2h-3zM113 112h2v3h-2zM63 172h3v3h-3zM210 138h2v2h-2zM244 114h4v2h-4zM61 192h2v3h-2zM222 43h2v2h-2zM172 130h3v2h-3zM152 130l2 0l4 4l-2 0zM164 54h2v3h-2zM178 16h3v2h-3zM164 138h3v3h-3zM33 203h3v2h-3zM33 -1h3v2h-3zM207 118h2v2h-2zM80 108h2v4h-2zM128 13h3v2h-3zM86 39h2v3h-2zM8 157h3v2h-3zM180 111l2 0l4 4l-2 0zM275 149h2v2h-2zM107 123h2v3h-2zM22 115h3v2h-3zM67 103h2v4h-2zM197 51h2v3h-2zM10 171h2v2h-2zM99 193h2v3h-2zM231 193h2v3h-2zM201 160h2v3h-2zM191 85h3v3h-3zM59 25h2v2h-2zM263 187h2v3h-2zM47 152h3v2h-3zM242 11h2v3h-2zM248 176h3v2h-3zM21 188h2v2h-2zM273 53l3 0l4 6l-3 0zM218 3h2v3h-2zM202 44h2v3h-2zM57 16l6 1l-4 4zM23 11h3v2h-3zM116 45h3v2h-3zM185 75h3v2h-3zM277 78h2v2h-2zM113 199h2v3h-2zM113 -5h2v3h-2zM125 151h2v3h-2zM72 58h2v2h-2zM117 98h2v3h-2zM168 104h2v3h-2zM171 30h3v3h-3zM88 16h3v2h-3zM217 103h3v2h-3zM222 188h3v2h-3zM267 113h3v2h-3zM74 156h3v2h-3zM41 152h2v2h-2zM206 163h4v2h-4zM210 124h3v2h-3zM199 24h2v3h-2z"/></pattern>
<pattern id="pM" width="288" height="204" patternUnits="userSpaceOnUse"><path class="dots" shape-rendering="crispEdges" d="M92 127h3v2h3v3h-4v-2h-2zM146 202h3v2h-3zM146 -2h3v2h-3zM33 107l5 0l-5 5zM64 40h2v4h-2zM164 91h3v2h-3zM267 146m0 1l5 -1l1 3l-5 2zM121 177h2v3h-2zM118 88l5 0l-5 5zM197 54h3v2h3v3h-4v-2h-2zM56 42m3 0l3 5l-6 0zM240 2m2 0l5 1l1 4l-6 2l-2 -4zM8 70m0 1l5 -1l1 3l-5 2zM151 57l6 1l-4 4zM276 151h2v2h-2zM87 176h3v2h-3zM224 129l5 0l-5 5zM287 81m2 0l5 1l1 4l-6 2l-2 -4zM-1 81m2 0l5 1l1 4l-6 2l-2 -4zM185 153h4v2h-4zM51 128m5 0l0 5l-5 0zM176 107h4v4h-4zM159 118h2v2h-2zM259 62h3v2h-3zM151 162m3 0l3 5l-6 0zM219 194h2v2h-2zM46 43m2 0l5 1l1 4l-6 2l-2 -4zM107 196m2 0l5 1l1 4l-6 2l-2 -4zM224 94h2v3h-2zM248 141h2v2h-2zM164 56h2v4h-2zM96 84h2v2h-2zM23 29h2v2h-2zM233 196h3v2h-3zM29 22l3 0l4 6l-3 0zM158 191h2v3h-2zM176 199l3 0l4 6l-3 0zM176 -5l3 0l4 6l-3 0zM164 72h3v2h-3zM216 165h4v2h-4zM194 24h3v5h-3zM278 28m3 0l3 5l-6 0zM170 46h4v2h-4zM92 59m4 0l3 0l-4 6l-3 0zM61 114m3 0l3 5l-6 0zM226 143h2v3h-2zM97 70h2v3h-2zM215 105h2v4h-2zM127 131h2v3h-2zM177 154h2v3h-2zM108 155h3v2h-3zM106 125h3v2h-3zM141 11h3v2h-3zM130 23h3v3h-3zM245 114m2 0l5 1l1 4l-6 2l-2 -4zM117 32h4v4h-4zM38 97l6 1l-4 4zM215 64h3v5h-3zM254 130h2v2h-2zM236 102m3 0l3 5l-6 0zM11 19h2v3h-2zM236 51h3v2h-3zM25 123h2v2h-2zM182 73h2v2h-2zM254 194h3v2h-3zM155 92m4 0l3 0l-4 6l-3 0zM264 119h3v2h-3zM252 185m0 2l3 -2l3 2l-3 4zM249 99m4 0l3 0l-4 6l-3 0zM103 18h4v2h-4zM209 76m4 0l3 0l-4 6l-3 0zM91 164h2v2h-2zM277 14h3v2h-3zM49 117h3v2h-3zM187 37m0 2l3 -2l3 2l-3 4zM124 169h3v2h-3zM23 68l3 0l4 6l-3 0zM114 67h2v3h-2zM112 9l5 0l-5 5zM191 115h3v2h-3zM282 62h4v2h-4zM-6 62h4v2h-4zM130 36l3 0l4 6l-3 0zM194 111l6 1l-4 4zM169 175h2v4h-2zM239 23h3v2h-3zM133 98h2v2h-2zM26 176m0 1l5 -1l1 3l-5 2zM167 93h2v3h-2zM137 27h3v3h-3zM234 25h3v2h-3zM213 114h3v2h-3zM161 153h3v2h-3zM220 34h2v3h-2zM197 195m2 0l5 1l1 4l-6 2l-2 -4zM179 29h3v2h-3zM83 156h4v2h-4zM9 38m0 2l3 -2l3 2l-3 4zM247 93h3v5h-3zM263 169m4 0l3 0l-4 6l-3 0zM223 109m0 1l5 -1l1 3l-5 2zM177 8h2v3h-2zM284 125h2v4h-2zM-4 125h2v4h-2zM240 124l2 0l4 4l-2 0zM273 66h2v3h-2zM8 183m4 0l3 0l-4 6l-3 0zM70 200h4v2h-4zM70 -4h4v2h-4zM166 102l0 2l4 -4l0 -2zM46 89l3 0l4 6l-3 0zM268 177h2v2h-2zM21 164h2v3h-2zM219 141h2v3h-2zM102 139h2v2h-2zM145 85m2 0l5 1l1 4l-6 2l-2 -4zM141 134h2v3h-2zM205 146l8 2l-2 3l-5 1zM88 89m4 0l3 0l-4 6l-3 0zM7 51h4v2h-4zM259 103m2 0l5 1l1 4l-6 2l-2 -4zM80 97h2v3h-2zM46 63h2v4h-2zM216 201m2 0l5 1l1 4l-6 2l-2 -4zM216 -3m2 0l5 1l1 4l-6 2l-2 -4zM139 61h3v5h-3zM174 133h2v2h-2zM123 199h3v2h-3zM123 -5h3v2h-3zM101 42m4 0l3 0l-4 6l-3 0zM148 12h3v2h-3zM39 199h3v2h-3zM39 -5h3v2h-3zM100 86m2 0l5 1l1 4l-6 2l-2 -4zM170 162m4 0l3 0l-4 6l-3 0zM239 9h2v2h-2zM124 100l6 1l-4 4zM229 1h2v3h-2zM144 153h4v2h-4zM7 33h3v2h-3zM86 50h2v2h-2zM34 154h3v2h-3zM192 166h2v4h-2zM95 24l2 0l4 4l-2 0zM120 42h4v4h-4zM2 98h3v2h-3zM74 149h2v3h-2zM241 134h5v3h-5zM196 18h2v3h-2zM221 82h3v2h-3zM126 57h3v2h-3zM181 146h2v2h-2zM172 86h2v4h-2zM142 145h3v2h-3zM78 41h5v3h-5zM43 156l8 2l-2 3l-5 1zM110 82h5v3h-5zM5 23h2v4h-2zM87 18h6v2h-3v3h-3zM186 188h2v4h-2zM22 151m4 0l3 0l-4 6l-3 0zM82 82h2v2h-2zM284 186m0 4l4 -4l3 0l-2 3l2 3l-5 1zM-4 186m0 4l4 -4l3 0l-2 3l2 3l-5 1zM13 146h3v2h-3zM22 131h2v3h-2zM43 197l6 1l-4 4zM194 191h3v2h-3zM60 1m0 1l5 -1l1 3l-5 2zM253 77h2v2h-2zM150 23h2v2h-2zM178 190h3v2h3v3h-4v-2h-2zM245 66h2v2h-2zM44 58h3v2h-3zM256 80h2v3h-2zM74 181m0 1l5 -1l1 3l-5 2zM220 76h2v3h-2zM109 49h2v3h-2zM128 6h4v2h-4zM18 203l3 0l4 6l-3 0zM18 -1l3 0l4 6l-3 0zM114 54h3v2h-3zM264 87l3 0l4 6l-3 0zM186 75h3v2h3v3h-4v-2h-2zM213 94m5 0l0 5l-5 0zM34 63m3 0l3 5l-6 0zM140 45h3v2h-3zM62 154h3v3h-3zM175 68h2v2h-2zM167 51h7v2h-2v2h-3v2h-2zM63 31m0 2l3 -2l3 2l-3 4zM247 55h5v3h-5zM108 101l5 0l-5 5zM228 165l8 2l-2 3l-5 1zM233 119h3v2h-3zM54 185h2v2h-2zM130 156m0 1l5 -1l1 3l-5 2zM10 200h2v3h-2zM10 -4h2v3h-2zM152 195h2v2h-2zM163 176h2v2h-2zM279 186h3v3h-3zM100 147m0 2l3 -2l3 2l-3 4zM126 16h5v3h-5zM112 153h2v2h-2zM95 35m0 4l4 -4l3 0l-2 3l2 3l-5 1zM168 190h3v2h-3zM246 123m2 0l5 1l1 4l-6 2l-2 -4zM20 48h2v4h-2zM138 73h3v2h-3zM14 201h2v2h-2zM14 -3h2v2h-2zM189 46h2v4h-2zM25 78h2v2h-2zM136 160h7v2h-2v2h-3v2h-2zM163 29h6v2h-3v3h-3zM38 112l8 2l-2 3l-5 1zM60 123l2 0l4 4l-2 0zM116 106h2v2h-2zM30 10l0 2l4 -4l0 -2zM122 49h2v3h-2zM1 170h2v3h-2zM202 143h3v3h-3zM215 16m3 0l3 5l-6 0zM169 72h2v3h-2zM30 166h2v3h-2zM95 10h3v2h-3zM28 90m2 0l5 1l1 4l-6 2l-2 -4zM133 87l6 1l-4 4zM67 188h2v4h-2zM58 168m0 2l3 -2l3 2l-3 4zM91 28h2v3h-2zM72 11h2v2h-2zM14 33h2v2h-2zM76 88h2v3h-2zM186 107h4v2h-4zM232 17h3v3h-3zM213 162h2v3h-2zM266 23h3v2h-3zM212 127h2v3h-2zM91 176h2v3h-2zM8 63h3v5h-3zM256 50h2v2h-2zM134 0m4 0l3 0l-4 6l-3 0zM147 79h3v2h-3zM279 135l5 0l-5 5zM69 183h2v2h-2zM195 96m4 0l3 0l-4 6l-3 0zM10 107m4 0l3 0l-4 6l-3 0zM104 7l6 1l-4 4zM107 66h2v2h-2zM43 24h3v5h-3zM226 103h3v2h-3zM52 55h3v2h3v3h-4v-2h-2zM95 49h3v3h-3zM226 46h7v2h-2v2h-3v2h-2zM156 157h3v2h-3zM169 151l6 1l-4 4zM260 203l8 2l-2 3l-5 1zM260 -1l8 2l-2 3l-5 1zM46 175m0 2l3 -2l3 2l-3 4zM280 145h2v3h-2zM33 38m0 2l3 -2l3 2l-3 4zM158 72l5 0l-5 5zM249 177h3v2h-3zM174 47l2 0l4 4l-2 0zM166 13h2v2h-2zM89 168h2v3h-2zM273 118l2 0l4 4l-2 0zM41 192h2v4h-2zM270 138l0 2l4 -4l0 -2zM158 168h3v3h-3zM227 188h2v3h-2zM280 81l0 2l4 -4l0 -2zM256 19l5 0l-5 5zM274 85h2v2h-2zM212 82l0 2l4 -4l0 -2zM54 200m5 0l0 5l-5 0zM54 -4m5 0l0 5l-5 0zM1 28h2v3h-2zM99 189h3v3h-3zM24 172h2v3h-2zM47 142h3v2h-3zM181 39h2v3h-2zM284 101h3v5h-3zM-4 101h3v5h-3zM62 94h3v2h-3zM158 128h2v3h-2zM208 69h2v2h-2zM178 139h2v2h-2zM254 36m5 0l0 5l-5 0zM155 178m0 4l4 -4l3 0l-2 3l2 3l-5 1zM238 12h2v3h-2zM233 125h2v2h-2zM109 116m5 0l0 5l-5 0zM64 49l6 1l-4 4zM45 73m5 0l0 5l-5 0zM229 179h2v2h-2zM211 100h3v2h-3zM275 177h2v3h-2zM28 157h2v2h-2zM119 66h2v2h-2zM200 8h2v2h-2zM78 187h2v3h-2zM140 106m4 0l3 0l-4 6l-3 0zM216 114l8 2l-2 3l-5 1zM34 181l2 0l4 4l-2 0zM139 21h2v3h-2zM185 203h3v2h-3zM185 -1h3v2h-3zM57 86h2v3h-2zM0 12h2v4h-2zM133 15h4v2h-4zM116 199h3v2h-3zM116 -5h3v2h-3zM175 3h3v3h-3zM70 114l0 2l4 -4l0 -2zM198 48h4v2h-4zM122 141h2v2h-2zM55 176h2v2h-2zM89 14h3v2h-3zM151 7h2v2h-2zM86 69m0 4l4 -4l3 0l-2 3l2 3l-5 1zM70 77h3v2h-3zM140 34l0 2l4 -4l0 -2zM159 65h2v3h-2zM76 168m4 0l3 0l-4 6l-3 0zM66 129m5 0l0 5l-5 0zM201 62h2v3h-2zM278 160h2v2h-2zM196 124l5 0l-5 5zM286 34h2v3h-2zM-2 34h2v3h-2zM64 15l5 0l-5 5zM284 178h4v2h-4zM-4 178h4v2h-4zM100 20h2v3h-2zM225 153h3v2h-3zM157 78h2v3h-2zM65 164m5 0l0 5l-5 0zM144 191h2v2h-2zM17 14h3v2h-3zM194 139h3v2h-3zM258 43h3v2h-3zM0 193h3v3h-3zM100 166h2v4h-2zM38 14h2v2h-2zM77 122h4v4h-4zM181 11h2v2h-2zM220 8h4v4h-4zM180 130l5 0l-5 5zM213 138h2v4h-2zM273 58h2v2h-2zM199 133m0 4l4 -4l3 0l-2 3l2 3l-5 1zM18 61h2v2h-2zM197 148h2v4h-2zM226 203h2v2h-2zM226 -1h2v2h-2zM258 146h3v2h-3zM187 25h2v2h-2zM56 143m0 4l4 -4l3 0l-2 3l2 3l-5 1zM156 100m4 0l3 0l-4 6l-3 0zM274 42h2v3h-2zM103 118h2v3h-2zM74 188h3v2h-3zM124 180h3v2h-3zM161 189h3v2h-3zM20 73h3v2h-3zM71 136h3v2h-3zM74 44h2v2h-2zM98 159l5 0l-5 5zM140 200h2v3h-2zM140 -4h2v3h-2zM26 130h3v2h-3zM45 104h2v2h-2zM257 112h2v3h-2zM125 35h2v2h-2zM196 6h3v2h-3zM137 33h2v3h-2zM91 57h2v2h-2zM186 54h3v2h-3zM84 124h3v5h-3zM261 53m2 0l5 1l1 4l-6 2l-2 -4zM161 128h3v2h-3zM203 86h4v4h-4zM280 114h7v2h-2v2h-3v2h-2zM210 180h3v2h-3zM168 131h2v2h-2zM120 8h3v2h-3zM285 162h2v3h-2zM-3 162h2v3h-2zM268 17h3v2h3v3h-4v-2h-2zM237 109m2 0l5 1l1 4l-6 2l-2 -4zM190 86h7v2h-2v2h-3v2h-2zM199 179h4v4h-4zM96 1h2v3h-2zM222 173h2v3h-2zM165 165h3v2h-3zM181 62h4v2h-4zM89 135h4v2h-4zM188 129h3v2h-3zM53 64m5 0l0 5l-5 0zM272 110h4v2h-4zM129 28l0 2l4 -4l0 -2zM150 129h6v2h-3v3h-3zM47 1h2v3h-2zM79 54l5 0l-5 5zM260 31m4 0l3 0l-4 6l-3 0zM122 186m0 1l5 -1l1 3l-5 2zM100 195h3v2h-3zM106 36h3v2h-3zM141 4l2 0l4 4l-2 0zM155 42l5 0l-5 5zM89 187m3 0l3 5l-6 0zM240 198h4v2h-4zM240 -6h4v2h-4zM171 77h5v3h-5zM229 137h2v4h-2zM96 202h3v2h-3zM96 -2h3v2h-3zM238 59h3v2h-3zM243 74m0 4l4 -4l3 0l-2 3l2 3l-5 1zM222 55h3v2h-3zM17 192h2v3h-2zM89 42l8 2l-2 3l-5 1zM229 34h3v2h-3zM15 51h2v3h-2zM54 118l5 0l-5 5zM262 10m0 1l5 -1l1 3l-5 2zM49 39h3v2h-3zM213 35m3 0l3 5l-6 0zM148 113h2v3h-2zM37 104h3v2h-3zM202 170h3v2h-3zM271 199h3v2h-3zM271 -5h3v2h-3zM4 89m0 2l3 -2l3 2l-3 4zM195 60h3v2h-3zM256 134m0 4l4 -4l3 0l-2 3l2 3l-5 1zM209 167h2v2h-2zM281 170h6v2h-3v3h-3zM111 46h3v2h-3zM206 75h3v2h-3zM111 27h2v3h-2zM81 146m0 2l3 -2l3 2l-3 4zM178 53h2v2h-2zM19 114m0 1l5 -1l1 3l-5 2zM80 194h2v4h-2zM53 85h3v2h-3zM54 156l3 0l4 6l-3 0zM7 198h3v2h-3zM7 -6h3v2h-3zM278 40h5v3h-5zM34 203l0 2l4 -4l0 -2zM34 -1l0 2l4 -4l0 -2zM4 150h4v4h-4zM222 163h3v2h-3zM142 81h2v2h-2zM162 12h3v2h-3zM220 95h2v3h-2zM175 30h2v4h-2zM31 117h3v3h-3zM165 84h3v2h-3zM151 201l8 2l-2 3l-5 1zM151 -3l8 2l-2 3l-5 1zM218 44m0 2l3 -2l3 2l-3 4zM33 6h2v3h-2zM111 73h3v2h-3zM272 8h6v2h-3v3h-3zM9 158m0 2l3 -2l3 2l-3 4zM2 2h2v2h-2zM167 88h2v2h-2zM30 74h4v2h-4zM196 73m5 0l0 5l-5 0zM264 186l2 0l4 4l-2 0zM52 6m3 0l3 5l-6 0zM134 78h3v2h-3zM110 176l3 0l4 6l-3 0zM182 107h3v2h-3zM183 81m0 2l3 -2l3 2l-3 4zM90 7h3v3h-3zM167 5h2v3h-2zM285 43h7v2h-2v2h-3v2h-2zM-3 43h7v2h-2v2h-3v2h-2zM203 113h3v2h-3zM225 88h2v2h-2zM222 146h2v3h-2zM240 176h3v2h-3zM13 76h2v2h-2zM98 98m0 2l3 -2l3 2l-3 4zM43 188h4v2h-4zM135 149l2 0l4 4l-2 0zM102 59h2v3h-2zM164 136h6v2h-3v3h-3zM265 131h3v2h-3zM49 11h3v2h-3zM272 165h2v3h-2zM126 134l0 2l4 -4l0 -2zM33 132m3 0l3 5l-6 0zM157 198h2v2h-2zM157 -6h2v2h-2zM161 158h3v2h-3zM185 183h2v3h-2zM221 189h2v3h-2zM280 202l2 0l4 4l-2 0zM280 -2l2 0l4 4l-2 0zM18 152h2v2h-2zM172 14l8 2l-2 3l-5 1zM60 134h2v3h-2zM286 66h2v3h-2zM-2 66h2v3h-2zM32 148h3v2h-3zM175 24h2v3h-2zM119 82h5v3h-5zM114 190h2v3h-2zM129 125m0 1l5 -1l1 3l-5 2zM82 10l5 0l-5 5zM69 139h2v4h-2zM52 164h2v3h-2zM193 32h2v3h-2zM234 78l2 0l4 4l-2 0zM184 94h2v3h-2zM101 131m0 1l5 -1l1 3l-5 2zM77 99h2v3h-2zM22 141h3v2h-3zM50 187l0 2l4 -4l0 -2zM147 46h3v2h-3zM273 183h3v2h-3zM148 66h3v2h-3zM64 138h3v2h-3zM282 156h3v2h-3zM-6 156h3v2h-3zM135 175h3v2h-3zM261 113h3v2h-3zM175 188h2v2h-2zM198 106h3v2h-3zM241 20h3v2h-3zM154 22l8 2l-2 3l-5 1zM219 122m3 0l3 5l-6 0zM242 61h2v3h-2zM5 176h3v2h-3zM264 65h4v2h-4zM180 5h3v2h-3zM169 25h2v2h-2zM84 89h2v4h-2zM264 178h2v2h-2zM51 33m0 1l5 -1l1 3l-5 2zM93 141h2v3h-2zM45 32h3v5h-3zM80 17h2v2h-2zM279 93m4 0l3 0l-4 6l-3 0zM103 177h3v2h3v3h-4v-2h-2zM203 203h3v3h-3zM203 -1h3v3h-3zM112 142h3v2h-3zM214 159h2v2h-2zM213 171m0 2l3 -2l3 2l-3 4zM26 139h2v3h-2zM178 36h2v2h-2zM26 55h7v2h-2v2h-3v2h-2zM188 136h3v2h-3zM252 165h2v2h-2zM268 99h2v3h-2zM219 155h2v4h-2zM86 37h2v3h-2zM91 113h3v2h3v3h-4v-2h-2zM253 62h2v2h-2zM224 24m0 4l4 -4l3 0l-2 3l2 3l-5 1zM35 163l6 1l-4 4zM4 126h3v2h-3zM279 197h2v3h-2zM135 138m0 4l4 -4l3 0l-2 3l2 3l-5 1zM234 143h2v3h-2zM40 182h3v2h-3zM204 189h3v2h-3zM121 25h7v2h-2v2h-3v2h-2zM186 2l0 2l4 -4l0 -2zM163 64h2v3h-2zM39 148h3v2h-3zM145 182m4 0l3 0l-4 6l-3 0zM77 177h2v2h-2zM55 19l5 0l-5 5zM8 138h3v2h-3zM22 64h2v3h-2zM167 144h2v4h-2zM184 32h3v3h-3zM113 134h2v3h-2zM43 143h3v2h-3zM26 32h3v2h-3zM219 178h3v5h-3zM82 198m0 4l4 -4l3 0l-2 3l2 3l-5 1zM82 -6m0 4l4 -4l3 0l-2 3l2 3l-5 1zM231 105h3v2h-3zM92 147h2v2h-2zM178 72h2v3h-2zM14 151h2v3h-2zM284 5h2v3h-2zM-4 5h2v3h-2zM173 177l2 0l4 4l-2 0zM39 53h2v3h-2zM42 173h2v2h-2zM146 168m3 0l3 5l-6 0zM233 8h3v3h-3zM64 55h2v3h-2zM223 72l0 2l4 -4l0 -2zM19 182m5 0l0 5l-5 0zM231 64m5 0l0 5l-5 0zM170 194m0 1l5 -1l1 3l-5 2zM128 50h6v2h-3v3h-3zM175 171h2v3h-2zM245 162h2v3h-2zM178 160h3v2h-3zM135 196h2v2h-2zM119 147h2v2h-2zM96 77h2v3h-2zM265 81h2v2h-2zM184 175h3v2h-3zM89 180m5 0l0 5l-5 0zM74 50l2 0l4 4l-2 0zM117 134h2v2h-2zM71 163h3v2h-3zM123 115h2v2h-2zM0 126h2v3h-2zM4 10l3 0l4 6l-3 0zM118 126m2 0l5 1l1 4l-6 2l-2 -4zM166 151h2v3h-2zM236 0h2v2h-2zM1 132h2v3h-2zM244 99h2v3h-2zM39 137m5 0l0 5l-5 0zM253 0h2v3h-2zM126 69h3v2h-3zM113 168h2v3h-2zM33 196h2v3h-2zM42 130l6 1l-4 4zM225 167h2v2h-2zM99 6h2v3h-2zM184 141h2v2h-2zM275 54h2v3h-2zM139 178m0 2l3 -2l3 2l-3 4zM225 117h3v2h-3zM167 199h2v3h-2zM167 -5h2v3h-2zM16 81h2v3h-2zM167 111h2v3h-2zM3 113h4v4h-4zM117 194h3v2h-3zM23 92h3v2h-3zM262 160h2v2h-2zM128 164h2v3h-2zM209 53l3 0l4 6l-3 0zM224 37m3 0l3 5l-6 0zM36 46l3 0l4 6l-3 0zM169 124m0 4l4 -4l3 0l-2 3l2 3l-5 1zM285 135h3v2h-3zM-3 135h3v2h-3zM248 44h3v2h-3zM10 176h2v3h-2zM51 100m5 0l0 5l-5 0zM206 117m0 4l4 -4l3 0l-2 3l2 3l-5 1zM44 150h3v2h-3zM27 145h4v2h-4zM235 175h2v2h-2zM173 102h4v2h-4zM250 10h2v3h-2zM287 148h2v2h-2zM-1 148h2v2h-2zM66 64h2v3h-2zM272 104h3v2h-3zM121 14h2v3h-2zM52 154h2v2h-2zM262 146h3v2h-3zM265 192h3v5h-3zM281 21h2v2h-2zM130 152h2v2h-2zM242 156h3v2h-3zM128 181l6 1l-4 4zM94 172h3v2h-3zM121 167h2v2h-2zM83 23h3v5h-3zM211 188h3v2h-3zM190 12h2v2h-2zM208 111h3v2h-3zM236 200h3v2h-3zM236 -4h3v2h-3zM156 33h6v2h-3v3h-3zM188 68h2v2h-2zM36 144h2v3h-2zM229 94h2v3h-2zM61 79h3v2h-3zM108 171h2v2h-2zM40 6h2v2h-2zM171 7h3v2h-3zM105 154h2v3h-2zM181 120h2v2h-2zM232 157h3v2h3v3h-4v-2h-2zM118 161h4v4h-4zM211 5h3v3h-3zM88 82m4 0l3 0l-4 6l-3 0zM8 80h5v3h-5zM108 137l0 2l4 -4l0 -2zM281 12l6 1l-4 4zM284 159h3v2h-3zM-4 159h3v2h-3zM280 177h2v3h-2zM144 29h5v3h-5zM195 0h5v3h-5zM95 97h2v3h-2zM64 175h4v4h-4zM73 0l0 2l4 -4l0 -2zM94 159h3v2h-3zM226 157h2v3h-2zM75 192h2v3h-2zM142 18h3v3h-3zM126 73m0 1l5 -1l1 3l-5 2zM236 84m5 0l0 5l-5 0zM142 196l2 0l4 4l-2 0zM177 95m0 2l3 -2l3 2l-3 4zM258 66h3v2h-3zM43 108h3v2h-3zM89 65h3v2h-3zM276 64h2v3h-2zM14 0h2v3h-2zM75 132h3v2h-3zM242 171h3v2h-3zM15 47h2v2h-2zM274 203h2v2h-2zM274 -1h2v2h-2zM65 75h3v2h-3zM144 160h3v2h-3zM163 200h2v2h-2zM163 -4h2v2h-2zM59 104h3v2h-3zM244 105h2v3h-2zM156 121h2v3h-2zM38 80l6 1l-4 4zM26 103l0 2l4 -4l0 -2zM258 152m0 4l4 -4l3 0l-2 3l2 3l-5 1zM129 198h3v2h-3zM129 -6h3v2h-3zM87 97h3v2h-3zM190 144m3 0l3 5l-6 0zM208 64h2v2h-2zM0 161h2v3h-2zM59 93h2v2h-2zM15 171l3 0l4 6l-3 0zM26 166h2v2h-2zM247 132h3v2h-3zM236 124h3v2h-3zM121 94h2v3h-2zM242 186h2v3h-2zM101 184h3v2h-3zM37 23h2v3h-2zM283 51l2 0l4 4l-2 0zM-5 51l2 0l4 4l-2 0zM30 138h3v2h-3zM253 172h2v2h-2zM209 195h3v2h-3zM72 81h3v2h-3zM47 21h3v2h-3zM180 150h2v2h-2zM14 196h3v3h-3zM235 59h2v3h-2zM1 56m4 0l3 0l-4 6l-3 0zM142 128m3 0l3 5l-6 0zM228 175h2v2h-2zM167 183l2 0l4 4l-2 0zM68 26m4 0l3 0l-4 6l-3 0zM278 108h3v2h-3zM143 72h5v3h-5zM140 170h2v2h-2zM284 56h2v3h-2zM-4 56h2v3h-2zM151 150l5 0l-5 5zM272 31h2v4h-2zM217 88h3v2h-3zM84 189h3v2h-3zM48 106h2v3h-2zM206 95h2v2h-2zM137 128h2v2h-2zM204 38h2v3h-2zM117 141h2v2h-2zM4 163h3v2h-3zM255 8h2v3h-2zM136 120m0 4l4 -4l3 0l-2 3l2 3l-5 1zM277 125h2v3h-2zM6 0h2v3h-2zM117 119h2v3h-2zM203 18l2 0l4 4l-2 0zM12 122h2v3h-2zM157 174h3v2h-3zM19 78h3v2h-3zM245 192h2v3h-2zM148 178h2v2h-2zM5 45h3v2h-3zM114 60l5 0l-5 5zM149 140h3v2h-3zM250 107h2v2h-2zM54 78h2v3h-2zM118 71h3v2h-3zM35 77h2v2h-2zM248 0h3v2h-3zM99 13h2v3h-2zM111 184l2 0l4 4l-2 0zM259 48h3v2h-3zM285 194h3v2h-3zM-3 194h3v2h-3zM128 191l6 1l-4 4zM103 122h2v3h-2zM252 29l5 0l-5 5zM168 38h2v2h-2zM277 130h2v3h-2zM118 151m0 1l5 -1l1 3l-5 2zM86 42h3v2h-3zM271 52h2v2h-2zM282 109h2v2h-2zM-6 109h2v2h-2zM235 30h2v2h-2zM243 90h2v2h-2zM73 17h2v4h-2zM70 94h2v3h-2zM155 65h2v3h-2zM70 58h3v2h-3zM243 27h3v3h-3zM7 143h2v3h-2zM173 114h6v2h-3v3h-3zM88 157l5 0l-5 5zM151 70m3 0l3 5l-6 0zM204 106l0 2l4 -4l0 -2zM271 93m4 0l3 0l-4 6l-3 0zM236 188h3v2h-3zM255 54h3v2h-3zM242 72h2v2h-2zM265 44h3v3h-3zM57 109h2v3h-2zM182 48h4v2h-4zM68 4h2v2h-2zM149 94h4v4h-4zM161 83h2v3h-2zM221 99h2v3h-2zM28 46h5v3h-5zM92 194h2v3h-2zM249 172h2v2h-2zM62 180h2v3h-2zM109 57h3v2h-3zM18 67h2v3h-2zM237 133h2v3h-2zM75 95h2v2h-2zM13 166h2v3h-2zM26 186l3 0l4 6l-3 0zM257 83l3 0l4 6l-3 0zM20 192l3 0l4 6l-3 0zM119 19h2v2h-2zM16 55h2v3h-2zM196 41h2v3h-2zM72 174h2v4h-2zM130 63h2v3h-2zM82 63h5v3h-5zM122 77h2v2h-2zM55 70h2v3h-2zM74 75h2v3h-2zM191 29h2v3h-2zM214 196h2v4h-2zM130 116l6 1l-4 4zM254 140h2v3h-2zM18 34h2v3h-2zM113 20h2v3h-2zM206 179h2v3h-2zM189 198h3v2h-3zM189 -6h3v2h-3zM15 115h3v2h-3zM134 44h2v3h-2zM106 121h3v2h-3zM95 186h3v2h-3zM39 178h2v3h-2zM95 197h2v2h-2zM142 53h2v2h-2zM248 30h2v2h-2zM183 125h2v2h-2zM227 53h2v3h-2zM191 157l3 0l4 6l-3 0zM122 107h3v2h-3zM68 102m3 0l3 5l-6 0zM97 88h2v3h-2zM245 167h3v3h-3zM77 7l0 2l4 -4l0 -2zM244 11h3v5h-3zM235 70h2v3h-2zM20 97h3v3h-3zM222 68h4v2h-4zM238 142l5 0l-5 5zM82 161h2v3h-2zM98 80h3v2h-3zM41 125h3v2h-3zM239 192h3v2h-3zM79 138l6 1l-4 4zM250 71h3v2h-3zM132 136h2v2h-2zM232 100h3v2h-3zM148 18h2v2h-2zM13 139m0 1l5 -1l1 3l-5 2zM8 173h2v3h-2zM269 126h6v2h-3v3h-3zM266 114h2v3h-2zM68 152m0 4l4 -4l3 0l-2 3l2 3l-5 1zM237 39m0 4l4 -4l3 0l-2 3l2 3l-5 1zM277 58h3v2h-3zM205 4h3v2h-3zM100 201h3v2h-3zM100 -3h3v2h-3zM248 49h2v2h-2zM99 181h3v2h-3zM10 98m0 4l4 -4l3 0l-2 3l2 3l-5 1zM117 98h3v2h3v3h-4v-2h-2zM107 164l0 2l4 -4l0 -2zM163 162h2v2h-2zM7 133h2v3h-2zM136 9h3v2h-3zM170 58m0 2l3 -2l3 2l-3 4zM208 104h2v2h-2zM154 49m4 0l3 0l-4 6l-3 0zM173 142m3 0l3 5l-6 0zM259 169h3v2h-3zM275 70m3 0l3 5l-6 0zM182 16h6v2h-3v3h-3zM46 182h2v3h-2zM44 203h2v3h-2zM44 -1h2v3h-2zM78 158h3v2h-3zM228 16h2v3h-2zM154 172h3v2h-3zM20 42h5v3h-5zM195 11h3v2h-3zM146 120h2v2h-2zM268 71l0 2l4 -4l0 -2zM79 203h2v2h-2zM79 -1h2v2h-2zM208 9h2v2h-2zM237 154h2v2h-2zM260 127h5v3h-5zM198 171h2v3h-2zM273 191h3v2h-3zM242 120h3v2h-3zM125 155h2v2h-2zM165 24h3v2h-3zM212 22h3v3h-3zM161 1h4v4h-4zM66 80h2v2h-2zM153 143h2v2h-2zM136 188l2 0l4 4l-2 0zM229 85h2v3h-2zM104 24h2v4h-2zM244 47h2v3h-2zM230 147h3v2h-3zM131 201h2v3h-2zM131 -3h2v3h-2zM255 160h2v2h-2zM188 183l2 0l4 4l-2 0zM118 109l0 2l4 -4l0 -2zM190 7h3v2h-3zM223 194h2v3h-2zM82 104h3v2h-3zM287 140h3v2h-3zM-1 140h3v2h-3zM178 90h3v3h-3zM270 159h2v3h-2zM34 100h2v3h-2zM67 84m0 4l4 -4l3 0l-2 3l2 3l-5 1zM204 52h2v2h-2zM143 115h2v3h-2zM232 115h2v2h-2zM94 105h4v4h-4zM110 35h4v2h-4zM61 199h3v2h-3zM61 -5h3v2h-3zM87 103h2v3h-2zM97 67h3v2h-3zM85 173h2v2h-2zM210 89h3v2h-3zM270 169l2 0l4 4l-2 0zM218 132h3v2h-3zM166 160h2v2h-2zM80 128h2v3h-2zM63 185h2v3h-2zM71 38h4v2h-4zM103 3h2v2h-2zM205 165h2v3h-2zM139 77h2v3h-2zM23 18h2v3h-2zM259 74m5 0l0 5l-5 0zM96 180h2v2h-2zM78 31h7v2h-2v2h-3v2h-2zM207 33h2v2h-2zM17 93h2v3h-2zM139 96m5 0l0 5l-5 0zM13 128h2v3h-2zM194 15h3v2h-3zM68 123h5v3h-5zM190 58h3v2h-3zM10 119h2v2h-2zM242 95h2v2h-2zM287 153h3v2h-3zM-1 153h3v2h-3zM215 122h2v3h-2zM94 54h2v3h-2zM110 146h2v2h-2zM133 108m5 0l0 5l-5 0zM62 72h2v3h-2zM30 82h3v5h-3zM57 151h2v3h-2zM78 113h3v2h-3zM3 102h3v2h-3zM36 89h2v2h-2zM81 86h2v2h-2zM245 21h2v3h-2zM115 47h2v2h-2zM146 37m0 2l3 -2l3 2l-3 4zM65 101h2v2h-2zM59 98h2v2h-2zM120 196h2v3h-2zM155 8l5 0l-5 5zM204 173h2v3h-2zM156 4h2v3h-2zM286 29h2v3h-2zM-2 29h2v3h-2zM231 55h2v3h-2zM88 34h2v3h-2zM256 13h2v3h-2zM72 144h2v2h-2zM147 60h2v2h-2zM203 11h3v2h-3zM233 91m5 0l0 5l-5 0zM285 143h2v2h-2zM-3 143h2v2h-2zM269 37h2v2h-2zM98 175h2v2h-2zM25 200h3v2h-3zM25 -4h3v2h-3zM259 26h2v2h-2zM40 92h3v2h-3zM257 97h3v2h-3zM184 163h3v2h3v3h-4v-2h-2zM104 52h2v2h-2zM188 98m5 0l0 5l-5 0zM4 166l3 0l4 6l-3 0zM224 62h2v3h-2zM283 74l3 0l4 6l-3 0zM-5 74l3 0l4 6l-3 0zM159 133h3v2h-3zM213 60h3v2h-3zM207 137h2v3h-2zM11 23h2v3h-2zM56 75h3v2h-3zM109 1h2v4h-2zM244 34h3v2h-3zM209 130h2v2h-2zM46 170h2v3h-2zM23 147h3v2h-3zM111 112h2v2h-2zM58 27h3v5h-3zM186 119l8 2l-2 3l-5 1zM13 89h2v2h-2zM48 6h3v2h-3zM266 27h2v2h-2zM204 125h2v2h-2zM16 126h3v2h-3zM35 34h2v2h-2zM11 193h2v3h-2zM244 181h6v2h-3v3h-3zM78 74l0 2l4 -4l0 -2zM151 191h3v2h-3zM196 176h2v3h-2zM248 135h2v3h-2zM152 175h2v3h-2zM113 91h2v2h-2zM225 13h3v2h-3zM104 144h3v2h-3zM77 66h2v2h-2zM154 14h2v2h-2zM40 36h2v2h-2zM237 178h2v3h-2zM56 135h2v2h-2zM205 154h3v2h-3zM191 105h3v2h-3zM67 171h2v2h-2zM36 72h2v2h-2zM208 201h3v2h-3zM208 -3h3v2h-3zM136 81h3v2h-3zM188 173h3v2h3v3h-4v-2h-2zM112 128h2v3h-2zM82 107h2v3h-2zM113 108h2v3h-2zM126 115h3v2h-3zM74 59h2v2h-2zM99 124h2v3h-2zM258 183h2v3h-2zM1 74h6v2h-3v3h-3zM90 197h2v3h-2zM204 103h3v2h-3zM276 171h3v2h-3zM123 59h2v3h-2zM52 96h2v3h-2zM15 181h2v3h-2zM239 149h2v3h-2zM104 115h3v2h-3zM8 27h2v3h-2zM99 142h3v2h-3zM254 116h2v2h-2zM34 126h2v2h-2zM90 103h3v2h-3zM92 122h4v2h-4zM6 38h2v2h-2zM102 64h3v2h-3zM148 134h2v3h-2zM231 75h2v2h-2zM240 183h2v3h-2zM192 153h3v2h-3zM259 93h3v2h-3zM108 76h2v3h-2zM42 13l5 0l-5 5zM267 164h2v3h-2zM277 1h2v2h-2zM157 138l2 0l4 4l-2 0zM56 188h3v2h-3zM268 106h2v2h-2zM107 73h3v2h-3zM84 117h2v2h-2zM29 111h2v2h-2zM69 0h2v2h-2zM109 188h2v2h-2zM43 165h2v3h-2zM254 110h2v3h-2zM200 158h2v2h-2zM204 129h3v2h-3zM123 173h3v3h-3zM160 18h2v3h-2zM262 17h3v2h-3zM207 28h2v3h-2zM57 183h3v2h-3zM232 130h3v3h-3zM35 170h3v3h-3zM58 81h2v3h-2zM126 44h2v3h-2zM180 76l0 2l4 -4l0 -2zM130 80h3v5h-3zM20 55h2v2h-2zM261 69h2v3h-2zM204 98h2v3h-2zM183 101h2v3h-2zM48 148l5 0l-5 5zM229 61h3v2h-3zM15 22h3v2h-3zM152 124h2v3h-2zM131 145h2v3h-2zM39 157h2v3h-2zM232 110h2v2h-2zM11 115h3v2h-3zM38 128h3v2h-3zM233 3h2v3h-2zM262 189h2v2h-2zM54 51h3v2h-3zM206 161h3v2h-3zM136 49l5 0l-5 5zM151 32h2v3h-2zM28 170h3v2h-3zM217 189h2v2h-2zM133 171h2v2h-2zM126 85h2v3h-2zM26 13h3v2h-3zM217 58l2 0l4 4l-2 0zM93 201h2v2h-2zM93 -3h2v2h-2zM257 119h4v4h-4zM238 67h2v3h-2zM172 138h3v2h-3zM113 41h2v2h-2zM34 190h2v3h-2zM205 47h3v3h-3zM162 192l3 0l4 6l-3 0zM221 22h2v2h-2zM5 108h2v3h-2zM106 184h2v2h-2zM0 183h2v3h-2zM167 64h3v2h-3zM95 168h3v2h-3zM83 166h2v2h-2zM242 54h2v2h-2zM132 163h3v2h-3zM177 80h2v3h-2zM273 26h2v3h-2zM179 168h2v2h-2zM200 27h2v2h-2zM193 200h2v2h-2zM193 -4h2v2h-2zM211 31h2v3h-2zM196 65l0 2l4 -4l0 -2zM163 119h7v2h-2v2h-3v2h-2zM181 138h3v2h-3zM104 70h2v3h-2zM266 159h2v2h-2zM104 79h2v2h-2zM130 91h2v2h-2zM253 154h2v2h-2zM4 182h2v2h-2zM274 47h5v3h-5zM200 83h3v2h-3zM21 87h2v2h-2zM145 54h3v2h-3zM262 39h2v3h-2zM17 162h2v3h-2zM229 7h2v3h-2zM76 13h2v2h-2zM67 69h3v2h3v3h-4v-2h-2zM184 43h2v2h-2zM185 11h2v3h-2zM168 2h2v2h-2zM11 7h3v2h-3zM180 142h3v2h-3zM244 146h2v3h-2zM219 84h2v3h-2zM270 45h2v2h-2zM269 64h3v2h-3zM124 111h2v2h-2zM190 203h2v3h-2zM190 -1h2v3h-2zM148 191h2v2h-2zM106 190h2v2h-2zM183 111h2v2h-2zM250 145h2v2h-2zM280 192h3v2h-3zM175 56h3v2h-3zM232 22h2v3h-2zM152 111h3v2h-3zM100 172h3v2h-3zM95 16h2v2h-2zM59 60h2v2h-2zM127 95h2v2h-2zM23 13h2v2h-2zM42 67h3v2h-3zM23 25h3v2h-3zM250 40h2v2h-2zM163 113h2v3h-2zM86 193h2v2h-2zM21 123h3v2h-3zM106 30h2v2h-2zM62 66h2v3h-2zM162 97h2v2h-2zM3 143h2v2h-2zM149 105h3v2h-3zM83 3m0 1l5 -1l1 3l-5 2zM287 121h4v2h-4zM-1 121h4v2h-4zM102 109h2v3h-2zM68 108h2v3h-2zM147 142h2v3h-2zM20 158l2 0l4 4l-2 0zM25 22h3v2h-3zM87 164h2v3h-2zM121 193h2v2h-2zM16 133h3v2h-3zM207 183h2v4h-2zM50 82h2v2h-2zM74 141h2v2h-2zM144 139h3v2h-3zM199 12h3v2h-3zM285 38h3v2h-3zM-3 38h3v2h-3zM84 78h2v3h-2zM29 132h2v3h-2zM76 146h2v2h-2zM65 194h2v2h-2zM217 50h2v3h-2zM16 155h2v3h-2zM230 200h3v3h-3zM230 -4h3v3h-3zM102 126h2v3h-2zM29 123h3v2h-3zM267 199h2v4h-2zM267 -5h2v4h-2zM226 184h2v3h-2zM141 91h2v2h-2zM118 55h3v2h-3zM48 111l2 0l4 4l-2 0zM212 41h2v2h-2zM278 103h2v3h-2zM182 88h3v2h-3zM159 149h2v2h-2zM25 35h2v3h-2zM120 181h2v2h-2zM272 174h2v3h-2zM193 130h3v2h-3zM151 48h2v3h-2zM154 186h2v3h-2zM275 137h2v2h-2zM220 169h2v3h-2zM177 21h2v3h-2zM204 24h2v4h-2zM13 57h2v3h-2zM76 70h2v3h-2zM235 171h3v2h-3zM188 94h3v2h-3zM146 163h3v2h-3zM199 90h2v2h-2zM164 186h2v3h-2zM159 114h2v2h-2zM102 31h2v3h-2zM119 116h2v3h-2zM108 159l6 1l-4 4zM248 19h3v2h-3zM271 194h3v2h-3zM140 113h2v2h-2zM85 133h3v2h-3zM76 154h3v2h-3zM51 183h2v2h-2zM251 193h2v2h-2zM174 158h2v2h-2zM174 92h2v2h-2zM239 74h2v2h-2zM205 58h3v2h-3zM36 11h2v2h-2zM25 1m0 4l4 -4l3 0l-2 3l2 3l-5 1zM256 151h2v2h-2zM15 65h2v3h-2zM232 191h3v2h-3zM20 7h2v3h-2zM197 34h3v2h-3zM232 38h2v2h-2zM238 168h2v3h-2zM264 137h3v2h-3zM151 157h2v3h-2zM115 15h2v3h-2zM104 105h3v2h-3zM202 80h3v2h-3zM100 10h3v2h-3zM19 104h3v2h-3zM82 132h2v3h-2zM287 19h3v2h-3zM-1 19h3v2h-3zM50 135h2v3h-2zM228 78h2v3h-2zM5 129h2v3h-2zM32 51h2v3h-2zM32 16l0 2l4 -4l0 -2zM215 27m3 0l3 5l-6 0zM4 136h3v2h-3zM181 69h2v2h-2zM214 89h2v2h-2zM243 149l0 2l4 -4l0 -2zM203 68h3v3h-3zM39 72h3v2h-3zM198 188h3v2h-3zM234 182h2v4h-2zM170 141h2v3h-2zM64 97h3v2h-3zM39 121h2v3h-2zM195 81h3v2h-3zM245 51h2v3h-2zM48 122h2v3h-2zM151 146h2v2h-2zM215 185h3v2h-3zM60 9h2v3h-2zM274 145h2v3h-2zM186 198h2v2h-2zM186 -6h2v2h-2zM117 5h2v2h-2zM245 82l6 1l-4 4zM118 77h3v2h-3zM206 194h2v3h-2zM165 156h2v2h-2zM41 57h2v3h-2zM155 109l2 0l4 4l-2 0zM0 166h2v3h-2zM209 50h3v2h-3zM115 158h3v2h-3zM6 5h2v3h-2zM206 170h2v2h-2zM34 30h2v3h-2zM3 199h2v3h-2zM3 -5h2v3h-2zM73 195h2v3h-2zM186 58h3v2h-3zM96 29h2v3h-2zM113 24h2v2h-2zM286 88h2v3h-2zM-2 88h2v3h-2zM43 43h2v3h-2zM238 129h2v3h-2zM248 196l0 2l4 -4l0 -2zM174 40h2v3h-2zM106 57h2v3h-2zM131 141h2v2h-2zM99 154h3v2h-3zM216 6h2v2h-2zM196 134h2v2h-2zM268 155h3v2h-3zM246 102h2v3h-2zM155 18h3v2h-3zM58 164h3v2h-3zM76 128h3v2h-3zM203 150h2v3h-2zM227 195h4v2h-4zM226 4h2v2h-2zM82 72h3v2h-3zM144 42h2v3h-2zM271 77h2v2h-2zM149 199h3v2h-3zM149 -5h3v2h-3zM133 104h2v2h-2zM71 111h2v2h-2zM40 76h2v2h-2zM207 176h3v2h-3zM110 95h3v2h-3zM214 73h2v2h-2zM86 138h2v2h-2zM77 164h2v3h-2zM130 1h2v3h-2zM121 1h4v2h-4zM253 83h2v3h-2zM27 63h2v3h-2zM224 137h2v2h-2zM124 54h3v2h-3zM17 26h2v2h-2zM250 6h2v2h-2zM182 170h2v2h-2zM192 69h3v2h-3zM150 15h3v2h-3zM179 185h2v3h-2zM225 57h3v2h-3zM163 52h2v3h-2zM56 196h3v2h-3zM49 170h3v2h-3zM31 68h3v2h-3zM52 24h3v2h-3zM182 56h3v2h-3zM138 56h3v2h-3zM257 59h2v2h-2zM213 14h2v2h-2zM1 93h2v2h-2zM267 49h2v3h-2zM24 126h2v3h-2zM249 66h2v3h-2zM165 47h2v2h-2zM150 101h2v3h-2zM43 39h2v2h-2zM281 8h3v2h-3zM256 199h5v3h-5zM256 -5h5v3h-5zM213 153h2v3h-2zM49 15h2v3h-2zM126 64h2v2h-2zM2 9h2v2h-2zM88 145h3v2h-3zM252 49h3v2h-3zM83 180h3v3h-3zM222 16h2v2h-2zM279 5h3v2h-3zM132 69m3 0l3 5l-6 0zM241 163h3v2h-3zM192 65h2v2h-2zM221 134h2v3h-2zM67 11h3v2h-3zM162 38h2v3h-2zM79 104h2v2h-2zM104 171h2v2h-2zM126 160h3v2h-3zM1 177h2v2h-2zM156 85h2v3h-2zM256 70h2v2h-2zM201 191h2v3h-2zM117 171h2v4h-2zM162 87h2v2h-2zM178 86h2v2h-2zM115 125h2v3h-2zM159 145h3v2h-3zM231 187h2v3h-2zM27 87h2v3h-2zM179 125h2v3h-2zM84 113h3v2h-3zM255 25h2v2h-2zM125 149h3v2h-3zM287 203h2v3h-2zM287 -1h2v3h-2zM-1 203h2v3h-2zM-1 -1h2v3h-2zM272 134h2v2h-2zM170 98h2v2h-2zM280 164h2v3h-2zM199 165h2v3h-2zM162 79h2v2h-2zM214 144h3v2h-3zM256 174m0 2l3 -2l3 2l-3 4zM141 0h3v2h-3zM201 162h2v3h-2zM17 148h3v2h-3zM1 68h3v2h-3zM52 72h2v3h-2zM149 122h2v2h-2zM75 85h3v2h-3zM0 105h3v2h-3zM2 159h3v2h-3zM180 179h4v2h-4zM164 169l0 2l4 -4l0 -2zM89 77h3v2h-3zM175 149h3v2h-3zM282 131h3v2h-3zM-6 131h3v2h-3zM113 4h2v3h-2zM236 35h2v3h-2zM60 37h3v2h-3zM101 94h2v3h-2zM85 100h2v2h-2zM10 47h3v2h-3zM2 64h3v2h-3zM16 7h2v2h-2zM167 17h3v3h-3zM62 85h2v2h-2zM16 17h2v3h-2zM214 132h2v2h-2zM269 3h2v2h-2zM237 137h2v3h-2zM221 104h2v3h-2zM202 34h2v2h-2zM124 164h2v2h-2zM121 136h3v2h-3zM4 186h3v2h-3zM279 88h2v2h-2zM278 34h2v3h-2zM15 10h2v3h-2zM30 200h2v2h-2zM30 -4h2v2h-2zM247 62h2v2h-2zM155 116h2v3h-2zM80 92h2v2h-2zM280 77h2v2h-2zM10 154h3v2h-3zM240 48h2v3h-2zM59 175h2v3h-2zM56 3h3v2h-3zM270 180h2v3h-2zM209 153h2v3h-2zM228 120h2v2h-2zM1 51h2v2h-2zM122 118l0 2l4 -4l0 -2zM11 94h4v2h-4zM117 26h2v2h-2zM88 121h3v2h-3zM0 32h3v2h-3zM259 165h2v2h-2zM144 124h3v2h-3zM183 156h2v3h-2zM25 109h2v2h-2zM205 61h2v3h-2zM218 145h2v3h-2zM265 142h3v2h-3zM153 83h3v2h-3zM132 177h2v3h-2zM15 29h2v3h-2zM140 155h3v2h-3zM167 43h2v3h-2zM153 29h2v2h-2zM94 152h2v3h-2zM281 142h2v2h-2zM77 46h2v3h-2zM280 123h3v2h-3zM46 83h2v3h-2zM55 113h3v2h-3zM76 26h2v2h-2zM39 151h2v3h-2zM55 90h2v2h-2zM95 135m3 0l3 5l-6 0zM205 82h3v2h-3zM76 108h3v2h-3zM75 118h2v3h-2zM253 135h2v3h-2zM60 55h2v2h-2zM64 59h3v2h-3zM43 87h3v2h-3zM5 119h3v2h-3zM159 163h3v2h-3zM269 115l0 2l4 -4l0 -2zM275 155h3v2h-3zM9 59h3v2h-3zM117 189h3v2h-3zM240 16h3v2h-3zM170 91h2v3h-2zM60 15h2v3h-2zM40 10h2v3h-2zM287 109h3v2h-3zM-1 109h3v2h-3zM148 148h2v2h-2zM282 148h3v2h-3zM-6 148h3v2h-3zM107 40h3v2h-3zM109 134h3v2h-3zM1 37h2v2h-2zM142 102h2v3h-2zM275 141h3v2h-3zM217 101h3v2h-3zM86 55h2v3h-2zM145 24h2v2h-2zM270 185h3v2h-3zM135 23h2v3h-2zM84 96h2v3h-2zM18 110h3v2h-3zM237 4h2v2h-2zM267 123h2v2h-2zM225 171h3v2h-3zM26 51h3v2h-3zM226 99h2v3h-2zM217 149h3v2h-3zM76 135h2v3h-2zM273 161h3v2h-3zM145 65h2v3h-2zM40 30h2v2h-2zM237 63h2v2h-2zM70 22h3v2h-3zM284 151h3v2h-3zM-4 151h3v2h-3zM148 1l0 2l4 -4l0 -2zM99 116h2v3h-2zM134 61h2v2h-2zM260 192h2v2h-2zM68 147h2v3h-2zM36 188h3v2h-3zM100 53h2v3h-2zM45 120h2v2h-2zM263 21h2v2h-2zM11 171h2v3h-2zM238 19h2v3h-2zM55 168h2v2h-2zM43 53h2v3h-2zM125 141l0 2l4 -4l0 -2zM280 54h2v2h-2zM211 45h2v2h-2zM251 23h2v2h-2zM179 103h3v2h-3zM149 117h2v2h-2zM52 2h3v2h-3zM287 23h3v2h-3zM-1 23h3v2h-3zM4 190h2v2h-2zM10 55h2v3h-2zM80 68h3v2h-3zM109 91h3v2h-3zM87 130h3v2h-3zM287 70h2v3h-2zM-1 70h2v3h-2zM208 158h3v2h-3zM75 30h3v2h-3zM276 23h2v2h-2zM209 36h3v2h-3zM229 154h2v2h-2zM192 180h3v2h-3zM171 34h2v3h-2zM275 77h2v2h-2zM49 85h2v3h-2zM264 96h2v2h-2zM44 96h3v2h-3zM48 52h2v3h-2zM252 13h3v2h-3zM12 136h2v2h-2zM63 24h2v3h-2zM272 61h2v3h-2zM108 128h3v2h-3zM233 149h3v2h-3zM204 30h2v3h-2zM282 181h2v3h-2zM-6 181h2v3h-2zM248 160h2v3h-2zM26 119h3v2h-3zM48 27l2 0l4 4l-2 0zM131 167h2v3h-2zM168 81h2v2h-2zM40 88h2v2h-2zM36 198h2v3h-2zM36 -6h2v3h-2zM69 44l0 2l4 -4l0 -2zM171 180h2v2h-2zM145 12h2v3h-2zM26 16h2v3h-2zM171 111h2v3h-2zM22 33h3v2h-3zM75 112h2v2h-2zM27 98h2v2h-2zM136 183h2v2h-2zM266 77h2v2h-2zM65 200h3v2h-3zM65 -4h3v2h-3zM49 194h2v2h-2zM281 48h2v2h-2zM142 85h2v3h-2zM35 120h2v2h-2zM221 92h2v2h-2zM222 31h2v2h-2zM232 88h2v2h-2zM61 191h2v3h-2zM114 138h3v2h-3zM184 117h2v2h-2zM64 8h3v2h-3zM141 67h2v3h-2zM89 25h3v2h-3zM142 48h3v2h-3zM190 52h2v2h-2zM158 60h2v2h-2zM275 187h2v2h-2zM224 19h2v2h-2zM104 197h2v2h-2zM0 101h2v2h-2zM268 80h3v2h-3zM74 7h2v2h-2zM186 180h3v2h-3zM194 117h2v3h-2zM136 19h3v2h-3zM34 157h2v3h-2zM22 178h2v2h-2zM16 86h2v2h-2zM275 100h2v3h-2zM202 95h2v2h-2zM9 126h2v3h-2zM46 136h2v3h-2zM88 109h2v2h-2zM22 107h2v2h-2zM226 125h2v2h-2zM43 9h3v2h-3zM141 150h3v2h-3zM169 108h2v2h-2zM89 149h2v3h-2zM132 9h3v2h-3zM59 129h2v2h-2zM114 95h3v2h-3zM98 112h2v3h-2zM79 3h2v3h-2zM89 52h2v2h-2zM165 9h3v2h-3zM177 135h2v2h-2zM236 194h3v2h-3zM250 150h2v3h-2zM254 168h3v2h-3zM171 172h3v2h-3zM207 142h2v3h-2zM181 23h2v3h-2zM154 138h2v3h-2zM238 164h2v2h-2zM229 127h3v2h-3zM129 106h2v2h-2zM30 127h2v2h-2zM239 32h2v3h-2zM94 20h3v2h-3zM33 176h3v2h-3zM104 159h3v2h-3zM208 13h2v2h-2zM24 85h2v2h-2zM171 202h2v3h-2zM171 -2h2v3h-2zM214 191h2v2h-2zM3 16h2v3h-2zM69 195h2v2h-2zM31 183h2v2h-2zM230 12h3v2h-3zM254 181h2v3h-2zM201 117h2v3h-2zM228 71h3v2h-3zM236 97h2v3h-2zM105 61h3v2h-3zM253 90h2v2h-2zM136 132h2v3h-2zM91 36h3v2h-3zM186 148h2v3h-2zM113 165h3v2h-3zM256 1h3v2h-3zM33 142h2v3h-2zM51 61h2v2h-2zM62 12h2v3h-2zM286 167h3v2h-3zM-2 167h3v2h-3zM27 41h3v2h-3zM118 51h2v3h-2zM22 137h3v2h-3zM60 48h3v2h-3zM274 38h2v3h-2zM45 69h2v3h-2zM250 110h2v3h-2zM51 139h2v2h-2zM129 175h2v3h-2zM109 22h3v2h-3zM145 93h2v3h-2zM227 161h2v3h-2zM94 33h2v2h-2zM96 150h3v2h-3zM245 173h2v3h-2zM274 89h3v2h-3zM257 6h3v2h-3zM215 10h2v2h-2zM199 38h2v3h-2zM58 51h2v2h-2zM220 40h3v2h-3zM47 101h3v2h-3zM64 147h2v2h-2zM85 46h2v2h-2zM279 149h2v2h-2zM20 22h3v2h-3zM166 77h2v3h-2zM95 93h3v2h-3zM94 163h3v2h-3zM16 43h2v2h-2zM53 108h3v2h-3zM281 161h3v2h-3zM53 41h2v2h-2zM200 30h2v3h-2zM194 49h3v2h-3zM172 120h2v3h-2zM148 51h2v2h-2zM199 154h2v3h-2zM130 45h3v2h-3zM206 41h3v2h-3zM221 152h2v2h-2zM86 31h2v3h-2zM225 33h2v2h-2zM21 81h3v2h-3zM208 100h2v2h-2zM225 181h3v2h-3zM255 164h3v2h-3zM258 142h2v3h-2zM241 81h2v3h-2zM22 188h2v3h-2zM218 79h2v3h-2zM118 48h3v2h-3zM17 187h2v3h-2zM96 144h2v3h-2zM193 187h3v2h-3zM224 199h2v2h-2zM224 -5h2v2h-2zM40 169h3v2h-3zM57 192h3v2h-3zM178 44h2v2h-2zM224 84h3v2h-3zM114 75h2v3h-2zM249 89h2v3h-2zM97 119h2v3h-2zM179 164h2v2h-2zM70 98h2v2h-2zM156 125h2v3h-2zM17 120h2v4h-2zM7 19h3v2h-3zM114 87h3v2h-3zM107 151h3v2h-3zM73 64h3v2h-3zM51 18h2v3h-2zM246 155h2v2h-2zM239 159h3v2h-3zM127 41h3v2h-3zM242 190h3v2h-3zM158 15h2v3h-2zM39 19h3v2h-3zM28 37h2v3h-2zM133 65h3v2h-3zM75 200h3v2h-3zM75 -4h3v2h-3zM20 58l2 0l4 4l-2 0zM191 19h3v2h-3zM278 180h2v3h-2zM109 16h2v2h-2zM204 158h3v2h-3zM165 182h2v2h-2zM101 68h2v2h-2zM163 16h2v3h-2zM146 101h3v2h-3zM24 9h3v2h-3zM4 31h2v2h-2zM31 159h2v3h-2zM256 125h2v3h-2zM20 128h3v2h-3zM151 79h2v2h-2zM124 8h2v2h-2zM232 83h2v2h-2zM105 97h3v2h-3zM86 142h2v2h-2zM113 146h3v2h-3zM276 114h3v2h-3zM198 22h3v2h-3zM31 102h2v3h-2zM94 66h2v3h-2zM183 26h2v3h-2zM125 79h2v2h-2zM259 52h2v2h-2zM283 71h3v2h-3zM-5 71h3v2h-3zM102 74h2v2h-2zM189 63h2v2h-2zM53 15h2v2h-2zM103 164h3v2h-3zM234 56h3v2h-3zM10 131h2v3h-2zM7 179h2v3h-2zM5 195h3v2h-3zM129 10h2v3h-2zM210 171h2v2h-2zM132 132h3v2h-3zM201 103h2v2h-2zM265 151h2v2h-2zM154 38h2v3h-2zM183 7h2v3h-2zM254 66h2v3h-2zM210 133h2v3h-2zM50 200h3v2h-3zM50 -4h3v2h-3zM125 21h2v2h-2zM268 7h2v3h-2zM233 43h3v2h-3zM62 161h3v2h-3zM18 89h2v2h-2zM175 121h3v2h-3zM48 126h2v2h-2zM30 32h3v2h-3zM182 197h3v2h-3zM57 139h2v2h-2zM17 72h2v3h-2zM194 45h2v3h-2zM286 198h2v3h-2zM286 -6h2v3h-2zM-2 198h2v3h-2zM-2 -6h2v3h-2zM62 88h2v3h-2zM136 171h3v2h-3zM62 109h2v3h-2zM201 44h2v2h-2zM119 201h3v2h-3zM119 -3h3v2h-3zM34 54h3v2h-3zM49 67h3v2h-3zM8 105h2v2h-2zM55 180h2v2h-2zM224 79h3v2h-3zM91 3h3v2h-3zM188 158h2v2h-2zM266 110h2v2h-2zM190 190h3v2h-3zM197 120h2v3h-2zM238 120h3v2h-3zM7 122h3v2h-3zM244 39h3v2h-3zM114 113h3v2h-3zM98 46h3v2h-3zM53 143h2v2h-2zM230 142h2v3h-2zM136 100h2v3h-2zM182 52h2v3h-2zM165 129h2v2h-2zM28 28h2v2h-2zM152 119h3v2h-3zM79 22h2v2h-2zM111 64h2v3h-2zM217 110h2v3h-2zM232 178h3v2h-3zM142 173h2v3h-2zM222 185h2v2h-2zM111 53h2v2h-2zM281 68h3v2h-3zM137 104h2v2h-2zM117 1h3v2h-3zM233 136h3v2h-3zM82 185h3v2h-3zM22 169h2v3h-2zM253 42h2v3h-2zM192 95h2v2h-2z"/></pattern>
<pattern id="pS1" href="#pS" patternTransform="translate(53 37)"/>
<pattern id="pM1" href="#pM" patternTransform="translate(61 43)"/>
<pattern id="pD1" href="#pS" patternTransform="translate(178 126)"/>
<pattern id="pS2" href="#pS" patternTransform="translate(106 74)"/>
<pattern id="pM2" href="#pM" patternTransform="translate(122 86)"/>
<pattern id="pD2" href="#pS" patternTransform="translate(225 155)"/>
<pattern id="pS3" href="#pS" patternTransform="translate(159 111)"/>
<pattern id="pM3" href="#pM" patternTransform="translate(183 129)"/>
<pattern id="pD3" href="#pS" patternTransform="translate(272 184)"/>
<pattern id="pS4" href="#pS" patternTransform="translate(212 148)"/>
<pattern id="pM4" href="#pM" patternTransform="translate(244 172)"/>
<pattern id="pD4" href="#pS" patternTransform="translate(319 213)"/>
</defs>
<g id="sideview">
<line x1="694.5" y1="448" x2="694.5" y2="488" stroke-width="3"/>
<line x1="693" y1="449" x2="1088.8" y2="449" stroke-width="2"/>
<line x1="1087.6" y1="448" x2="1087.6" y2="488" stroke-width="2.5"/>
<line x1="678" y1="488.6" x2="1104" y2="488.6" stroke-width="5"/>
<rect x="719.2" y="480" width="9.8" height="7" fill="none" stroke-width="2"/>
<rect x="1053.2" y="480" width="10.7" height="7" fill="none" stroke-width="2"/>
<path class="ah" d="M717.5 490.5h12.5l-4.6 6.8h-3.4z"/>
<path class="ah" d="M1052.2 490.5h12.5l-4.4 6.8h-3.6z"/>
<rect x="1032.3" y="490" width="13.5" height="20.6" fill="none" stroke-width="2"/>
<line x1="723.8" y1="495" x2="494" y2="1350" stroke-width="2.2"/>
<line x1="1058.6" y1="496" x2="1278" y2="1358" stroke-width="2.2"/>
<path d="M1038.7 511C1038.7 514.7 1038 525 1038.4 533C1038.9 541 1039.9 551.5 1041.4 559.3C1042.9 567.1 1044.9 573.2 1047.5 580C1050.1 586.8 1052.9 592 1056.8 600C1060.7 608 1066 619.5 1070.9 628.2C1075.8 636.9 1081 644.6 1086.4 652.1C1091.8 659.6 1097.7 666 1103.3 673.3C1108.9 680.6 1114.8 688 1120.2 695.8C1125.6 703.5 1130.8 711.3 1135.7 719.8C1140.6 728.3 1145.6 737.4 1149.8 746.6C1154 755.8 1158.2 765.9 1161.1 774.8C1164 783.7 1166 792.1 1167.4 800.1C1168.8 808.1 1169.1 815.7 1169.3 822.7C1169.5 829.8 1169.2 835.4 1168.8 842.4C1168.4 849.4 1167.6 857 1166.7 865C1165.8 873 1164.1 883.8 1163.2 890.3C1162.3 896.8 1162.6 897.7 1161.5 904C1160.4 910.3 1158.2 919.5 1156.8 928.2C1155.4 936.9 1154.1 947 1153.3 956.4C1152.5 965.8 1151.9 975.2 1151.8 984.6C1151.7 994 1151.8 1003.4 1152.8 1012.8C1153.8 1022.2 1155 1031.5 1157.5 1040.9C1160 1050.3 1163.5 1059.7 1168.1 1069.1C1172.7 1078.5 1179.1 1088.6 1185 1097.3C1190.9 1106 1196.8 1113.2 1203.3 1121.3C1209.8 1129.4 1217.1 1137.5 1223.7 1146C1230.3 1154.5 1237 1163.7 1242.8 1172C1248.6 1180.3 1253.5 1187.8 1258.3 1196C1263.1 1204.2 1267.6 1212.7 1271.5 1221C1275.4 1229.3 1278.8 1236.8 1281.9 1245.8C1285 1254.8 1287.8 1264.8 1289.9 1274.8C1292 1284.8 1293.1 1296.1 1294.7 1305.6C1296.3 1315.1 1297.8 1322.4 1299.5 1332C1301.2 1341.6 1303.9 1356.5 1305 1363C1306.1 1369.5 1305.8 1369.7 1306 1371" stroke-width="2.2"/>
<rect class="np" x="227.2" y="1281.2" width="74.1" height="201.4" rx="15" style="fill:url(#pM1)"/>
<rect class="np" x="227.2" y="1281.2" width="74.1" height="201.4" rx="15" style="fill:url(#pD1)"/>
<rect class="np" x="325.7" y="1281.2" width="99.3" height="201.4" rx="15" style="fill:url(#pM2)"/>
<rect class="np" x="325.7" y="1281.2" width="99.3" height="201.4" rx="15" style="fill:url(#pD2)"/>
<rect class="np" x="462.7" y="1281.2" width="128.7" height="201.4" rx="15" style="fill:url(#pM3)"/>
<rect class="np" x="621.4" y="1281.2" width="128.1" height="201.4" rx="15" style="fill:url(#pM4)"/>
<rect class="np" x="823.3" y="1281.2" width="127.6" height="201.4" rx="15" style="fill:url(#pM1)"/>
<rect class="np" x="1000.8" y="1281.2" width="128.6" height="201.4" rx="15" style="fill:url(#pM2)"/>
<rect class="np" x="1181.9" y="1281.2" width="129" height="201.4" rx="15" style="fill:url(#pM3)"/>
<rect class="np" x="1349.7" y="1281.2" width="98.6" height="201.4" rx="15" style="fill:url(#pM4)"/>
<rect class="np" x="1349.7" y="1281.2" width="98.6" height="201.4" rx="15" style="fill:url(#pD4)"/>
<rect class="np" x="1481.6" y="1281.2" width="73.8" height="201.4" rx="15" style="fill:url(#pM1)"/>
<rect class="np" x="1481.6" y="1281.2" width="73.8" height="201.4" rx="15" style="fill:url(#pD1)"/>
<rect class="np" x="274.6" y="1244" width="83.7" height="276" rx="15.5" style="fill:url(#pS1)"/>
<rect class="np" x="379.1" y="1244" width="117.9" height="276" rx="15.5" style="fill:url(#pS2)"/>
<rect class="np" x="546.7" y="1244" width="119.7" height="276" rx="15.5" style="fill:url(#pS3)"/>
<rect class="np" x="731.8" y="1244" width="119.7" height="276" rx="15.5" style="fill:url(#pS4)"/>
<rect class="np" x="906.6" y="1244" width="118.6" height="276" rx="15.5" style="fill:url(#pS1)"/>
<rect class="np" x="1097.7" y="1244" width="119.3" height="276" rx="15.5" style="fill:url(#pS2)"/>
<rect class="np" x="1107.9" y="1244" width="119" height="276" rx="15.5" style="fill:url(#pS3)"/>
<rect class="np" x="1276.5" y="1244" width="119.1" height="276" rx="15.5" style="fill:url(#pS4)"/>
<rect class="np" x="1415.7" y="1244" width="84.7" height="276" rx="15.5" style="fill:url(#pS1)"/>
<rect x="227.2" y="1281.2" width="74.1" height="201.4" rx="15" fill="none" stroke-width="2.8"/>
<rect x="325.7" y="1281.2" width="99.3" height="201.4" rx="15" fill="none" stroke-width="2.8"/>
<rect x="462.7" y="1281.2" width="128.7" height="201.4" rx="15" fill="none" stroke-width="2.8"/>
<rect x="621.4" y="1281.2" width="128.1" height="201.4" rx="15" fill="none" stroke-width="2.8"/>
<rect x="823.3" y="1281.2" width="127.6" height="201.4" rx="15" fill="none" stroke-width="2.8"/>
<rect x="1000.8" y="1281.2" width="128.6" height="201.4" rx="15" fill="none" stroke-width="2.8"/>
<rect x="1181.9" y="1281.2" width="129" height="201.4" rx="15" fill="none" stroke-width="2.8"/>
<rect x="1349.7" y="1281.2" width="98.6" height="201.4" rx="15" fill="none" stroke-width="2.8"/>
<rect x="1481.6" y="1281.2" width="73.8" height="201.4" rx="15" fill="none" stroke-width="2.8"/>
<rect x="274.6" y="1244" width="83.7" height="276" rx="15.5" fill="none" stroke-width="2.8"/>
<rect x="379.1" y="1244" width="117.9" height="276" rx="15.5" fill="none" stroke-width="2.8"/>
<rect x="546.7" y="1244" width="119.7" height="276" rx="15.5" fill="none" stroke-width="2.8"/>
<rect x="731.8" y="1244" width="119.7" height="276" rx="15.5" fill="none" stroke-width="2.8"/>
<rect x="906.6" y="1244" width="118.6" height="276" rx="15.5" fill="none" stroke-width="2.8"/>
<rect x="1097.7" y="1244" width="119.3" height="276" rx="15.5" fill="none" stroke-width="2.8"/>
<rect x="1107.9" y="1244" width="119" height="276" rx="15.5" fill="none" stroke-width="2.8"/>
<rect x="1276.5" y="1244" width="119.1" height="276" rx="15.5" fill="none" stroke-width="2.8"/>
<rect x="1415.7" y="1244" width="84.7" height="276" rx="15.5" fill="none" stroke-width="2.8"/>
<rect x="212.4" y="1372.3" width="1357.9" height="24.1" fill="none" stroke-width="2.2"/>
<path class="ah" d="M1269 1367.5l9-11 3 2 5 9z"/>
<path d="M1295 1356h13M1296.5 1356v12" stroke-width="2"/>
<line x1="113" y1="449" x2="690" y2="449" stroke-width="2"/>
<line x1="114.1" y1="449" x2="114.1" y2="1520" stroke-width="2"/>
<line x1="112.8" y1="1519.8" x2="286" y2="1519.8" stroke-width="2.2"/>
<polygon class="ah" points="114.1,448.5 117.9,464.5 110.3,464.5"/>
<polygon class="ah" points="114.1,1520.5 110.3,1504.5 117.9,1504.5"/>
<text class="dt" transform="translate(113 984.6) rotate(-90)" text-anchor="middle" textLength="49.5" lengthAdjust="spacingAndGlyphs">1500</text>
<line x1="170.5" y1="1244" x2="286" y2="1244" stroke-width="2.2"/>
<line x1="171.8" y1="1244" x2="171.8" y2="1520" stroke-width="2"/>
<polygon class="ah" points="171.8,1243.5 175.6,1259.5 168,1259.5"/>
<polygon class="ah" points="171.8,1520.5 168,1504.5 175.6,1504.5"/>
<text class="dt" transform="translate(170.8 1382) rotate(-90)" text-anchor="middle" textLength="38" lengthAdjust="spacingAndGlyphs">280</text>
<line x1="643" y1="449" x2="643" y2="488.5" stroke-width="2"/>
<line x1="641.8" y1="487.8" x2="675.7" y2="487.8" stroke-width="2"/>
<polygon class="ah" points="643,449.5 646.8,464.5 639.2,464.5"/>
<polygon class="ah" points="643,488 639.2,473 646.8,473"/>
<text class="dt" transform="translate(641.2 468) rotate(-90)" text-anchor="middle" textLength="25.5" lengthAdjust="spacingAndGlyphs">40</text>
</g>
<g id="planview">
<rect x="213.4" y="1654.7" width="1356" height="313" rx="156.5" fill="none" stroke-width="3"/>
<rect x="286.8" y="1726.9" width="1209.2" height="168.3" rx="84.2" fill="none" stroke-width="3"/>
<g transform="translate(510.8 1677.6) rotate(0)">
<rect x="-3.7" y="-3.1" width="7.4" height="6.2" stroke-width="1.9" transform="translate(-30 -17.7) rotate(-9)"/>
<rect x="-3.7" y="-3.1" width="7.4" height="6.2" stroke-width="1.9" transform="translate(30 -17.7) rotate(9)"/>
<rect x="-3.7" y="-3.1" width="7.4" height="6.2" stroke-width="1.9" transform="translate(-27 1.2) rotate(-8)"/>
<rect x="-3.7" y="-3.1" width="7.4" height="6.2" stroke-width="1.9" transform="translate(27 1.2) rotate(8)"/>
<path d="M-62.5 0A191.3 191.3 0 0 1 62.5 0" stroke-width="13.2" stroke-linecap="round" style="stroke-linecap:round"/>
<path d="M-62.5 0A191.3 191.3 0 0 1 62.5 0" stroke-width="8.4" style="stroke:#fff;stroke-linecap:round"/>
</g>
<g transform="translate(510.8 1944.8) rotate(180)">
<rect x="-3.7" y="-3.1" width="7.4" height="6.2" stroke-width="1.9" transform="translate(-30 -17.7) rotate(-9)"/>
<rect x="-3.7" y="-3.1" width="7.4" height="6.2" stroke-width="1.9" transform="translate(30 -17.7) rotate(9)"/>
<rect x="-3.7" y="-3.1" width="7.4" height="6.2" stroke-width="1.9" transform="translate(-27 1.2) rotate(-8)"/>
<rect x="-3.7" y="-3.1" width="7.4" height="6.2" stroke-width="1.9" transform="translate(27 1.2) rotate(8)"/>
<path d="M-62.5 0A191.3 191.3 0 0 1 62.5 0" stroke-width="13.2" stroke-linecap="round" style="stroke-linecap:round"/>
<path d="M-62.5 0A191.3 191.3 0 0 1 62.5 0" stroke-width="8.4" style="stroke:#fff;stroke-linecap:round"/>
</g>
<g transform="translate(700.7 1677.6) rotate(0)">
<rect x="-3.7" y="-3.1" width="7.4" height="6.2" stroke-width="1.9" transform="translate(-30 -17.7) rotate(-9)"/>
<rect x="-3.7" y="-3.1" width="7.4" height="6.2" stroke-width="1.9" transform="translate(30 -17.7) rotate(9)"/>
<rect x="-3.7" y="-3.1" width="7.4" height="6.2" stroke-width="1.9" transform="translate(-27 1.2) rotate(-8)"/>
<rect x="-3.7" y="-3.1" width="7.4" height="6.2" stroke-width="1.9" transform="translate(27 1.2) rotate(8)"/>
<path d="M-62.5 0A191.3 191.3 0 0 1 62.5 0" stroke-width="13.2" stroke-linecap="round" style="stroke-linecap:round"/>
<path d="M-62.5 0A191.3 191.3 0 0 1 62.5 0" stroke-width="8.4" style="stroke:#fff;stroke-linecap:round"/>
</g>
<g transform="translate(700.7 1944.8) rotate(180)">
<rect x="-3.7" y="-3.1" width="7.4" height="6.2" stroke-width="1.9" transform="translate(-30 -17.7) rotate(-9)"/>
<rect x="-3.7" y="-3.1" width="7.4" height="6.2" stroke-width="1.9" transform="translate(30 -17.7) rotate(9)"/>
<rect x="-3.7" y="-3.1" width="7.4" height="6.2" stroke-width="1.9" transform="translate(-27 1.2) rotate(-8)"/>
<rect x="-3.7" y="-3.1" width="7.4" height="6.2" stroke-width="1.9" transform="translate(27 1.2) rotate(8)"/>
<path d="M-62.5 0A191.3 191.3 0 0 1 62.5 0" stroke-width="13.2" stroke-linecap="round" style="stroke-linecap:round"/>
<path d="M-62.5 0A191.3 191.3 0 0 1 62.5 0" stroke-width="8.4" style="stroke:#fff;stroke-linecap:round"/>
</g>
<g transform="translate(891.3 1677.6) rotate(0)">
<rect x="-3.7" y="-3.1" width="7.4" height="6.2" stroke-width="1.9" transform="translate(-30 -17.7) rotate(-9)"/>
<rect x="-3.7" y="-3.1" width="7.4" height="6.2" stroke-width="1.9" transform="translate(30 -17.7) rotate(9)"/>
<rect x="-3.7" y="-3.1" width="7.4" height="6.2" stroke-width="1.9" transform="translate(-27 1.2) rotate(-8)"/>
<rect x="-3.7" y="-3.1" width="7.4" height="6.2" stroke-width="1.9" transform="translate(27 1.2) rotate(8)"/>
<path d="M-62.5 0A191.3 191.3 0 0 1 62.5 0" stroke-width="13.2" stroke-linecap="round" style="stroke-linecap:round"/>
<path d="M-62.5 0A191.3 191.3 0 0 1 62.5 0" stroke-width="8.4" style="stroke:#fff;stroke-linecap:round"/>
</g>
<g transform="translate(891.3 1944.8) rotate(180)">
<rect x="-3.7" y="-3.1" width="7.4" height="6.2" stroke-width="1.9" transform="translate(-30 -17.7) rotate(-9)"/>
<rect x="-3.7" y="-3.1" width="7.4" height="6.2" stroke-width="1.9" transform="translate(30 -17.7) rotate(9)"/>
<rect x="-3.7" y="-3.1" width="7.4" height="6.2" stroke-width="1.9" transform="translate(-27 1.2) rotate(-8)"/>
<rect x="-3.7" y="-3.1" width="7.4" height="6.2" stroke-width="1.9" transform="translate(27 1.2) rotate(8)"/>
<path d="M-62.5 0A191.3 191.3 0 0 1 62.5 0" stroke-width="13.2" stroke-linecap="round" style="stroke-linecap:round"/>
<path d="M-62.5 0A191.3 191.3 0 0 1 62.5 0" stroke-width="8.4" style="stroke:#fff;stroke-linecap:round"/>
</g>
<g transform="translate(1081.9 1677.6) rotate(0)">
<rect x="-3.7" y="-3.1" width="7.4" height="6.2" stroke-width="1.9" transform="translate(-30 -17.7) rotate(-9)"/>
<rect x="-3.7" y="-3.1" width="7.4" height="6.2" stroke-width="1.9" transform="translate(30 -17.7) rotate(9)"/>
<rect x="-3.7" y="-3.1" width="7.4" height="6.2" stroke-width="1.9" transform="translate(-27 1.2) rotate(-8)"/>
<rect x="-3.7" y="-3.1" width="7.4" height="6.2" stroke-width="1.9" transform="translate(27 1.2) rotate(8)"/>
<path d="M-62.5 0A191.3 191.3 0 0 1 62.5 0" stroke-width="13.2" stroke-linecap="round" style="stroke-linecap:round"/>
<path d="M-62.5 0A191.3 191.3 0 0 1 62.5 0" stroke-width="8.4" style="stroke:#fff;stroke-linecap:round"/>
</g>
<g transform="translate(1081.9 1944.8) rotate(180)">
<rect x="-3.7" y="-3.1" width="7.4" height="6.2" stroke-width="1.9" transform="translate(-30 -17.7) rotate(-9)"/>
<rect x="-3.7" y="-3.1" width="7.4" height="6.2" stroke-width="1.9" transform="translate(30 -17.7) rotate(9)"/>
<rect x="-3.7" y="-3.1" width="7.4" height="6.2" stroke-width="1.9" transform="translate(-27 1.2) rotate(-8)"/>
<rect x="-3.7" y="-3.1" width="7.4" height="6.2" stroke-width="1.9" transform="translate(27 1.2) rotate(8)"/>
<path d="M-62.5 0A191.3 191.3 0 0 1 62.5 0" stroke-width="13.2" stroke-linecap="round" style="stroke-linecap:round"/>
<path d="M-62.5 0A191.3 191.3 0 0 1 62.5 0" stroke-width="8.4" style="stroke:#fff;stroke-linecap:round"/>
</g>
<g transform="translate(1271.8 1677.6) rotate(0)">
<rect x="-3.7" y="-3.1" width="7.4" height="6.2" stroke-width="1.9" transform="translate(-30 -17.7) rotate(-9)"/>
<rect x="-3.7" y="-3.1" width="7.4" height="6.2" stroke-width="1.9" transform="translate(30 -17.7) rotate(9)"/>
<rect x="-3.7" y="-3.1" width="7.4" height="6.2" stroke-width="1.9" transform="translate(-27 1.2) rotate(-8)"/>
<rect x="-3.7" y="-3.1" width="7.4" height="6.2" stroke-width="1.9" transform="translate(27 1.2) rotate(8)"/>
<path d="M-62.5 0A191.3 191.3 0 0 1 62.5 0" stroke-width="13.2" stroke-linecap="round" style="stroke-linecap:round"/>
<path d="M-62.5 0A191.3 191.3 0 0 1 62.5 0" stroke-width="8.4" style="stroke:#fff;stroke-linecap:round"/>
</g>
<g transform="translate(1271.8 1944.8) rotate(180)">
<rect x="-3.7" y="-3.1" width="7.4" height="6.2" stroke-width="1.9" transform="translate(-30 -17.7) rotate(-9)"/>
<rect x="-3.7" y="-3.1" width="7.4" height="6.2" stroke-width="1.9" transform="translate(30 -17.7) rotate(9)"/>
<rect x="-3.7" y="-3.1" width="7.4" height="6.2" stroke-width="1.9" transform="translate(-27 1.2) rotate(-8)"/>
<rect x="-3.7" y="-3.1" width="7.4" height="6.2" stroke-width="1.9" transform="translate(27 1.2) rotate(8)"/>
<path d="M-62.5 0A191.3 191.3 0 0 1 62.5 0" stroke-width="13.2" stroke-linecap="round" style="stroke-linecap:round"/>
<path d="M-62.5 0A191.3 191.3 0 0 1 62.5 0" stroke-width="8.4" style="stroke:#fff;stroke-linecap:round"/>
</g>
<g transform="translate(431 1714.2) rotate(0)">
<rect x="-3.7" y="-3.1" width="7.4" height="6.2" stroke-width="1.9" transform="translate(-30 -17.7) rotate(-9)"/>
<rect x="-3.7" y="-3.1" width="7.4" height="6.2" stroke-width="1.9" transform="translate(30 -17.7) rotate(9)"/>
<rect x="-3.7" y="-3.1" width="7.4" height="6.2" stroke-width="1.9" transform="translate(-27 1.2) rotate(-8)"/>
<rect x="-3.7" y="-3.1" width="7.4" height="6.2" stroke-width="1.9" transform="translate(27 1.2) rotate(8)"/>
<path d="M-62.5 0A191.3 191.3 0 0 1 62.5 0" stroke-width="13.2" stroke-linecap="round" style="stroke-linecap:round"/>
<path d="M-62.5 0A191.3 191.3 0 0 1 62.5 0" stroke-width="8.4" style="stroke:#fff;stroke-linecap:round"/>
</g>
<g transform="translate(431 1908.2) rotate(180)">
<rect x="-3.7" y="-3.1" width="7.4" height="6.2" stroke-width="1.9" transform="translate(-30 -17.7) rotate(-9)"/>
<rect x="-3.7" y="-3.1" width="7.4" height="6.2" stroke-width="1.9" transform="translate(30 -17.7) rotate(9)"/>
<rect x="-3.7" y="-3.1" width="7.4" height="6.2" stroke-width="1.9" transform="translate(-27 1.2) rotate(-8)"/>
<rect x="-3.7" y="-3.1" width="7.4" height="6.2" stroke-width="1.9" transform="translate(27 1.2) rotate(8)"/>
<path d="M-62.5 0A191.3 191.3 0 0 1 62.5 0" stroke-width="13.2" stroke-linecap="round" style="stroke-linecap:round"/>
<path d="M-62.5 0A191.3 191.3 0 0 1 62.5 0" stroke-width="8.4" style="stroke:#fff;stroke-linecap:round"/>
</g>
<g transform="translate(603.4 1714.2) rotate(0)">
<rect x="-3.7" y="-3.1" width="7.4" height="6.2" stroke-width="1.9" transform="translate(-30 -17.7) rotate(-9)"/>
<rect x="-3.7" y="-3.1" width="7.4" height="6.2" stroke-width="1.9" transform="translate(30 -17.7) rotate(9)"/>
<rect x="-3.7" y="-3.1" width="7.4" height="6.2" stroke-width="1.9" transform="translate(-27 1.2) rotate(-8)"/>
<rect x="-3.7" y="-3.1" width="7.4" height="6.2" stroke-width="1.9" transform="translate(27 1.2) rotate(8)"/>
<path d="M-62.5 0A191.3 191.3 0 0 1 62.5 0" stroke-width="13.2" stroke-linecap="round" style="stroke-linecap:round"/>
<path d="M-62.5 0A191.3 191.3 0 0 1 62.5 0" stroke-width="8.4" style="stroke:#fff;stroke-linecap:round"/>
</g>
<g transform="translate(603.4 1908.2) rotate(180)">
<rect x="-3.7" y="-3.1" width="7.4" height="6.2" stroke-width="1.9" transform="translate(-30 -17.7) rotate(-9)"/>
<rect x="-3.7" y="-3.1" width="7.4" height="6.2" stroke-width="1.9" transform="translate(30 -17.7) rotate(9)"/>
<rect x="-3.7" y="-3.1" width="7.4" height="6.2" stroke-width="1.9" transform="translate(-27 1.2) rotate(-8)"/>
<rect x="-3.7" y="-3.1" width="7.4" height="6.2" stroke-width="1.9" transform="translate(27 1.2) rotate(8)"/>
<path d="M-62.5 0A191.3 191.3 0 0 1 62.5 0" stroke-width="13.2" stroke-linecap="round" style="stroke-linecap:round"/>
<path d="M-62.5 0A191.3 191.3 0 0 1 62.5 0" stroke-width="8.4" style="stroke:#fff;stroke-linecap:round"/>
</g>
<g transform="translate(796.9 1714.2) rotate(0)">
<rect x="-3.7" y="-3.1" width="7.4" height="6.2" stroke-width="1.9" transform="translate(-30 -17.7) rotate(-9)"/>
<rect x="-3.7" y="-3.1" width="7.4" height="6.2" stroke-width="1.9" transform="translate(30 -17.7) rotate(9)"/>
<rect x="-3.7" y="-3.1" width="7.4" height="6.2" stroke-width="1.9" transform="translate(-27 1.2) rotate(-8)"/>
<rect x="-3.7" y="-3.1" width="7.4" height="6.2" stroke-width="1.9" transform="translate(27 1.2) rotate(8)"/>
<path d="M-62.5 0A191.3 191.3 0 0 1 62.5 0" stroke-width="13.2" stroke-linecap="round" style="stroke-linecap:round"/>
<path d="M-62.5 0A191.3 191.3 0 0 1 62.5 0" stroke-width="8.4" style="stroke:#fff;stroke-linecap:round"/>
</g>
<g transform="translate(796.9 1908.2) rotate(180)">
<rect x="-3.7" y="-3.1" width="7.4" height="6.2" stroke-width="1.9" transform="translate(-30 -17.7) rotate(-9)"/>
<rect x="-3.7" y="-3.1" width="7.4" height="6.2" stroke-width="1.9" transform="translate(30 -17.7) rotate(9)"/>
<rect x="-3.7" y="-3.1" width="7.4" height="6.2" stroke-width="1.9" transform="translate(-27 1.2) rotate(-8)"/>
<rect x="-3.7" y="-3.1" width="7.4" height="6.2" stroke-width="1.9" transform="translate(27 1.2) rotate(8)"/>
<path d="M-62.5 0A191.3 191.3 0 0 1 62.5 0" stroke-width="13.2" stroke-linecap="round" style="stroke-linecap:round"/>
<path d="M-62.5 0A191.3 191.3 0 0 1 62.5 0" stroke-width="8.4" style="stroke:#fff;stroke-linecap:round"/>
</g>
<g transform="translate(985.7 1714.2) rotate(0)">
<rect x="-3.7" y="-3.1" width="7.4" height="6.2" stroke-width="1.9" transform="translate(-30 -17.7) rotate(-9)"/>
<rect x="-3.7" y="-3.1" width="7.4" height="6.2" stroke-width="1.9" transform="translate(30 -17.7) rotate(9)"/>
<rect x="-3.7" y="-3.1" width="7.4" height="6.2" stroke-width="1.9" transform="translate(-27 1.2) rotate(-8)"/>
<rect x="-3.7" y="-3.1" width="7.4" height="6.2" stroke-width="1.9" transform="translate(27 1.2) rotate(8)"/>
<path d="M-62.5 0A191.3 191.3 0 0 1 62.5 0" stroke-width="13.2" stroke-linecap="round" style="stroke-linecap:round"/>
<path d="M-62.5 0A191.3 191.3 0 0 1 62.5 0" stroke-width="8.4" style="stroke:#fff;stroke-linecap:round"/>
</g>
<g transform="translate(985.7 1908.2) rotate(180)">
<rect x="-3.7" y="-3.1" width="7.4" height="6.2" stroke-width="1.9" transform="translate(-30 -17.7) rotate(-9)"/>
<rect x="-3.7" y="-3.1" width="7.4" height="6.2" stroke-width="1.9" transform="translate(30 -17.7) rotate(9)"/>
<rect x="-3.7" y="-3.1" width="7.4" height="6.2" stroke-width="1.9" transform="translate(-27 1.2) rotate(-8)"/>
<rect x="-3.7" y="-3.1" width="7.4" height="6.2" stroke-width="1.9" transform="translate(27 1.2) rotate(8)"/>
<path d="M-62.5 0A191.3 191.3 0 0 1 62.5 0" stroke-width="13.2" stroke-linecap="round" style="stroke-linecap:round"/>
<path d="M-62.5 0A191.3 191.3 0 0 1 62.5 0" stroke-width="8.4" style="stroke:#fff;stroke-linecap:round"/>
</g>
<g transform="translate(1179.3 1714.2) rotate(0)">
<rect x="-3.7" y="-3.1" width="7.4" height="6.2" stroke-width="1.9" transform="translate(-30 -17.7) rotate(-9)"/>
<rect x="-3.7" y="-3.1" width="7.4" height="6.2" stroke-width="1.9" transform="translate(30 -17.7) rotate(9)"/>
<rect x="-3.7" y="-3.1" width="7.4" height="6.2" stroke-width="1.9" transform="translate(-27 1.2) rotate(-8)"/>
<rect x="-3.7" y="-3.1" width="7.4" height="6.2" stroke-width="1.9" transform="translate(27 1.2) rotate(8)"/>
<path d="M-62.5 0A191.3 191.3 0 0 1 62.5 0" stroke-width="13.2" stroke-linecap="round" style="stroke-linecap:round"/>
<path d="M-62.5 0A191.3 191.3 0 0 1 62.5 0" stroke-width="8.4" style="stroke:#fff;stroke-linecap:round"/>
</g>
<g transform="translate(1179.3 1908.2) rotate(180)">
<rect x="-3.7" y="-3.1" width="7.4" height="6.2" stroke-width="1.9" transform="translate(-30 -17.7) rotate(-9)"/>
<rect x="-3.7" y="-3.1" width="7.4" height="6.2" stroke-width="1.9" transform="translate(30 -17.7) rotate(9)"/>
<rect x="-3.7" y="-3.1" width="7.4" height="6.2" stroke-width="1.9" transform="translate(-27 1.2) rotate(-8)"/>
<rect x="-3.7" y="-3.1" width="7.4" height="6.2" stroke-width="1.9" transform="translate(27 1.2) rotate(8)"/>
<path d="M-62.5 0A191.3 191.3 0 0 1 62.5 0" stroke-width="13.2" stroke-linecap="round" style="stroke-linecap:round"/>
<path d="M-62.5 0A191.3 191.3 0 0 1 62.5 0" stroke-width="8.4" style="stroke:#fff;stroke-linecap:round"/>
</g>
<g transform="translate(1350 1714.2) rotate(0)">
<rect x="-3.7" y="-3.1" width="7.4" height="6.2" stroke-width="1.9" transform="translate(-30 -17.7) rotate(-9)"/>
<rect x="-3.7" y="-3.1" width="7.4" height="6.2" stroke-width="1.9" transform="translate(30 -17.7) rotate(9)"/>
<rect x="-3.7" y="-3.1" width="7.4" height="6.2" stroke-width="1.9" transform="translate(-27 1.2) rotate(-8)"/>
<rect x="-3.7" y="-3.1" width="7.4" height="6.2" stroke-width="1.9" transform="translate(27 1.2) rotate(8)"/>
<path d="M-62.5 0A191.3 191.3 0 0 1 62.5 0" stroke-width="13.2" stroke-linecap="round" style="stroke-linecap:round"/>
<path d="M-62.5 0A191.3 191.3 0 0 1 62.5 0" stroke-width="8.4" style="stroke:#fff;stroke-linecap:round"/>
</g>
<g transform="translate(1350 1908.2) rotate(180)">
<rect x="-3.7" y="-3.1" width="7.4" height="6.2" stroke-width="1.9" transform="translate(-30 -17.7) rotate(-9)"/>
<rect x="-3.7" y="-3.1" width="7.4" height="6.2" stroke-width="1.9" transform="translate(30 -17.7) rotate(9)"/>
<rect x="-3.7" y="-3.1" width="7.4" height="6.2" stroke-width="1.9" transform="translate(-27 1.2) rotate(-8)"/>
<rect x="-3.7" y="-3.1" width="7.4" height="6.2" stroke-width="1.9" transform="translate(27 1.2) rotate(8)"/>
<path d="M-62.5 0A191.3 191.3 0 0 1 62.5 0" stroke-width="13.2" stroke-linecap="round" style="stroke-linecap:round"/>
<path d="M-62.5 0A191.3 191.3 0 0 1 62.5 0" stroke-width="8.4" style="stroke:#fff;stroke-linecap:round"/>
</g>
<g transform="translate(1446.2 1690.2) rotate(17.8)">
<rect x="-3.7" y="-3.1" width="7.4" height="6.2" stroke-width="1.9" transform="translate(-30 -17.7) rotate(-9)"/>
<rect x="-3.7" y="-3.1" width="7.4" height="6.2" stroke-width="1.9" transform="translate(30 -17.7) rotate(9)"/>
<rect x="-3.7" y="-3.1" width="7.4" height="6.2" stroke-width="1.9" transform="translate(-27 1.2) rotate(-8)"/>
<rect x="-3.7" y="-3.1" width="7.4" height="6.2" stroke-width="1.9" transform="translate(27 1.2) rotate(8)"/>
<path d="M-62.5 0A191.3 191.3 0 0 1 62.5 0" stroke-width="13.2" stroke-linecap="round" style="stroke-linecap:round"/>
<path d="M-62.5 0A191.3 191.3 0 0 1 62.5 0" stroke-width="8.4" style="stroke:#fff;stroke-linecap:round"/>
</g>
<g transform="translate(1446.2 1932.2) rotate(162.2)">
<rect x="-3.7" y="-3.1" width="7.4" height="6.2" stroke-width="1.9" transform="translate(-30 -17.7) rotate(-9)"/>
<rect x="-3.7" y="-3.1" width="7.4" height="6.2" stroke-width="1.9" transform="translate(30 -17.7) rotate(9)"/>
<rect x="-3.7" y="-3.1" width="7.4" height="6.2" stroke-width="1.9" transform="translate(-27 1.2) rotate(-8)"/>
<rect x="-3.7" y="-3.1" width="7.4" height="6.2" stroke-width="1.9" transform="translate(27 1.2) rotate(8)"/>
<path d="M-62.5 0A191.3 191.3 0 0 1 62.5 0" stroke-width="13.2" stroke-linecap="round" style="stroke-linecap:round"/>
<path d="M-62.5 0A191.3 191.3 0 0 1 62.5 0" stroke-width="8.4" style="stroke:#fff;stroke-linecap:round"/>
</g>
<g transform="translate(336.6 1690.2) rotate(-17.8)">
<rect x="-3.7" y="-3.1" width="7.4" height="6.2" stroke-width="1.9" transform="translate(-30 -17.7) rotate(-9)"/>
<rect x="-3.7" y="-3.1" width="7.4" height="6.2" stroke-width="1.9" transform="translate(30 -17.7) rotate(9)"/>
<rect x="-3.7" y="-3.1" width="7.4" height="6.2" stroke-width="1.9" transform="translate(-27 1.2) rotate(-8)"/>
<rect x="-3.7" y="-3.1" width="7.4" height="6.2" stroke-width="1.9" transform="translate(27 1.2) rotate(8)"/>
<path d="M-62.5 0A191.3 191.3 0 0 1 62.5 0" stroke-width="13.2" stroke-linecap="round" style="stroke-linecap:round"/>
<path d="M-62.5 0A191.3 191.3 0 0 1 62.5 0" stroke-width="8.4" style="stroke:#fff;stroke-linecap:round"/>
</g>
<g transform="translate(336.6 1932.2) rotate(-162.2)">
<rect x="-3.7" y="-3.1" width="7.4" height="6.2" stroke-width="1.9" transform="translate(-30 -17.7) rotate(-9)"/>
<rect x="-3.7" y="-3.1" width="7.4" height="6.2" stroke-width="1.9" transform="translate(30 -17.7) rotate(9)"/>
<rect x="-3.7" y="-3.1" width="7.4" height="6.2" stroke-width="1.9" transform="translate(-27 1.2) rotate(-8)"/>
<rect x="-3.7" y="-3.1" width="7.4" height="6.2" stroke-width="1.9" transform="translate(27 1.2) rotate(8)"/>
<path d="M-62.5 0A191.3 191.3 0 0 1 62.5 0" stroke-width="13.2" stroke-linecap="round" style="stroke-linecap:round"/>
<path d="M-62.5 0A191.3 191.3 0 0 1 62.5 0" stroke-width="8.4" style="stroke:#fff;stroke-linecap:round"/>
</g>
<g transform="translate(1484.2 1753.5) rotate(48.5)">
<rect x="-3.7" y="-3.1" width="7.4" height="6.2" stroke-width="1.9" transform="translate(-30 -17.7) rotate(-9)"/>
<rect x="-3.7" y="-3.1" width="7.4" height="6.2" stroke-width="1.9" transform="translate(30 -17.7) rotate(9)"/>
<rect x="-3.7" y="-3.1" width="7.4" height="6.2" stroke-width="1.9" transform="translate(-27 1.2) rotate(-8)"/>
<rect x="-3.7" y="-3.1" width="7.4" height="6.2" stroke-width="1.9" transform="translate(27 1.2) rotate(8)"/>
<path d="M-62.5 0A191.3 191.3 0 0 1 62.5 0" stroke-width="13.2" stroke-linecap="round" style="stroke-linecap:round"/>
<path d="M-62.5 0A191.3 191.3 0 0 1 62.5 0" stroke-width="8.4" style="stroke:#fff;stroke-linecap:round"/>
</g>
<g transform="translate(1484.2 1869) rotate(131.5)">
<rect x="-3.7" y="-3.1" width="7.4" height="6.2" stroke-width="1.9" transform="translate(-30 -17.7) rotate(-9)"/>
<rect x="-3.7" y="-3.1" width="7.4" height="6.2" stroke-width="1.9" transform="translate(30 -17.7) rotate(9)"/>
<rect x="-3.7" y="-3.1" width="7.4" height="6.2" stroke-width="1.9" transform="translate(-27 1.2) rotate(-8)"/>
<rect x="-3.7" y="-3.1" width="7.4" height="6.2" stroke-width="1.9" transform="translate(27 1.2) rotate(8)"/>
<path d="M-62.5 0A191.3 191.3 0 0 1 62.5 0" stroke-width="13.2" stroke-linecap="round" style="stroke-linecap:round"/>
<path d="M-62.5 0A191.3 191.3 0 0 1 62.5 0" stroke-width="8.4" style="stroke:#fff;stroke-linecap:round"/>
</g>
<g transform="translate(298.6 1753.5) rotate(-48.5)">
<rect x="-3.7" y="-3.1" width="7.4" height="6.2" stroke-width="1.9" transform="translate(-30 -17.7) rotate(-9)"/>
<rect x="-3.7" y="-3.1" width="7.4" height="6.2" stroke-width="1.9" transform="translate(30 -17.7) rotate(9)"/>
<rect x="-3.7" y="-3.1" width="7.4" height="6.2" stroke-width="1.9" transform="translate(-27 1.2) rotate(-8)"/>
<rect x="-3.7" y="-3.1" width="7.4" height="6.2" stroke-width="1.9" transform="translate(27 1.2) rotate(8)"/>
<path d="M-62.5 0A191.3 191.3 0 0 1 62.5 0" stroke-width="13.2" stroke-linecap="round" style="stroke-linecap:round"/>
<path d="M-62.5 0A191.3 191.3 0 0 1 62.5 0" stroke-width="8.4" style="stroke:#fff;stroke-linecap:round"/>
</g>
<g transform="translate(298.6 1869) rotate(-131.5)">
<rect x="-3.7" y="-3.1" width="7.4" height="6.2" stroke-width="1.9" transform="translate(-30 -17.7) rotate(-9)"/>
<rect x="-3.7" y="-3.1" width="7.4" height="6.2" stroke-width="1.9" transform="translate(30 -17.7) rotate(9)"/>
<rect x="-3.7" y="-3.1" width="7.4" height="6.2" stroke-width="1.9" transform="translate(-27 1.2) rotate(-8)"/>
<rect x="-3.7" y="-3.1" width="7.4" height="6.2" stroke-width="1.9" transform="translate(27 1.2) rotate(8)"/>
<path d="M-62.5 0A191.3 191.3 0 0 1 62.5 0" stroke-width="13.2" stroke-linecap="round" style="stroke-linecap:round"/>
<path d="M-62.5 0A191.3 191.3 0 0 1 62.5 0" stroke-width="8.4" style="stroke:#fff;stroke-linecap:round"/>
</g>
<g transform="translate(1542 1811.2) rotate(90)">
<rect x="-3.7" y="-3.1" width="7.4" height="6.2" stroke-width="1.9" transform="translate(-30 -17.7) rotate(-9)"/>
<rect x="-3.7" y="-3.1" width="7.4" height="6.2" stroke-width="1.9" transform="translate(30 -17.7) rotate(9)"/>
<rect x="-3.7" y="-3.1" width="7.4" height="6.2" stroke-width="1.9" transform="translate(-27 1.2) rotate(-8)"/>
<rect x="-3.7" y="-3.1" width="7.4" height="6.2" stroke-width="1.9" transform="translate(27 1.2) rotate(8)"/>
<path d="M-62.5 0A191.3 191.3 0 0 1 62.5 0" stroke-width="13.2" stroke-linecap="round" style="stroke-linecap:round"/>
<path d="M-62.5 0A191.3 191.3 0 0 1 62.5 0" stroke-width="8.4" style="stroke:#fff;stroke-linecap:round"/>
</g>
<g transform="translate(240.8 1811.2) rotate(-90)">
<rect x="-3.7" y="-3.1" width="7.4" height="6.2" stroke-width="1.9" transform="translate(-30 -17.7) rotate(-9)"/>
<rect x="-3.7" y="-3.1" width="7.4" height="6.2" stroke-width="1.9" transform="translate(30 -17.7) rotate(9)"/>
<rect x="-3.7" y="-3.1" width="7.4" height="6.2" stroke-width="1.9" transform="translate(-27 1.2) rotate(-8)"/>
<rect x="-3.7" y="-3.1" width="7.4" height="6.2" stroke-width="1.9" transform="translate(27 1.2) rotate(8)"/>
<path d="M-62.5 0A191.3 191.3 0 0 1 62.5 0" stroke-width="13.2" stroke-linecap="round" style="stroke-linecap:round"/>
<path d="M-62.5 0A191.3 191.3 0 0 1 62.5 0" stroke-width="8.4" style="stroke:#fff;stroke-linecap:round"/>
</g>
<circle cx="421.1" cy="1683.6" r="3.6" stroke-width="2.2"/>
<circle cx="421.1" cy="1938.8" r="3.6" stroke-width="2.2"/>
<circle cx="608.6" cy="1683.6" r="3.6" stroke-width="2.2"/>
<circle cx="608.6" cy="1938.8" r="3.6" stroke-width="2.2"/>
<circle cx="799.5" cy="1683.6" r="3.6" stroke-width="2.2"/>
<circle cx="799.5" cy="1938.8" r="3.6" stroke-width="2.2"/>
<circle cx="982.6" cy="1683.6" r="3.6" stroke-width="2.2"/>
<circle cx="982.6" cy="1938.8" r="3.6" stroke-width="2.2"/>
<circle cx="1173.2" cy="1683.6" r="3.6" stroke-width="2.2"/>
<circle cx="1173.2" cy="1938.8" r="3.6" stroke-width="2.2"/>
<circle cx="1360.7" cy="1683.6" r="3.6" stroke-width="2.2"/>
<circle cx="1360.7" cy="1938.8" r="3.6" stroke-width="2.2"/>
<circle cx="1515.6" cy="1736.5" r="3.7" stroke-width="2.2"/>
<circle cx="1515.6" cy="1885.9" r="3.7" stroke-width="2.2"/>
<circle cx="267.2" cy="1736.5" r="3.7" stroke-width="2.2"/>
<circle cx="267.2" cy="1885.9" r="3.7" stroke-width="2.2"/>
<circle cx="516.8" cy="1713.3" r="4.6" stroke-width="2.3"/>
<circle cx="516.8" cy="1909.2" r="4.6" stroke-width="2.3"/>
<circle cx="1264.9" cy="1693.8" r="4.6" stroke-width="2.3"/>
<circle cx="1264.9" cy="1713.7" r="4.6" stroke-width="2.3"/>
<circle cx="1265.2" cy="1909.8" r="4.6" stroke-width="2.3"/>
<line x1="142.8" y1="1653.9" x2="372" y2="1653.9" stroke-width="2"/>
<line x1="142.8" y1="1968.5" x2="372" y2="1968.5" stroke-width="2"/>
<line x1="144.6" y1="1653.9" x2="144.6" y2="1968.5" stroke-width="2"/>
<polygon class="ah" points="144.6,1653.4 148.4,1669.4 140.8,1669.4"/>
<polygon class="ah" points="144.6,1969 140.8,1953 148.4,1953"/>
<text class="dt" transform="translate(143.4 1812.4) rotate(-90)" text-anchor="middle" textLength="37.5" lengthAdjust="spacingAndGlyphs">320</text>
<line x1="212.6" y1="1811" x2="212.6" y2="2031.3" stroke-width="2"/>
<line x1="1570.3" y1="1811" x2="1570.3" y2="2031.3" stroke-width="2"/>
<line x1="212.6" y1="2030" x2="1570.3" y2="2030" stroke-width="2.4"/>
<polygon class="ah" points="212.2,2030 228.2,2026.2 228.2,2033.8"/>
<polygon class="ah" points="1570.8,2030 1554.8,2033.8 1554.8,2026.2"/>
<text class="dt" x="891.3" y="2028.6" text-anchor="middle" textLength="49" lengthAdjust="spacingAndGlyphs">1380</text>
</g>
<g id="title">
<text y="2192.2" style="font-size:62px"><tspan x="733.8" textLength="26.5" lengthAdjust="spacingAndGlyphs" style="stroke:#000;stroke-width:2.6px;stroke-linejoin:round">W</tspan><tspan x="762.7" textLength="26.5" lengthAdjust="spacingAndGlyphs" style="stroke:#000;stroke-width:2.6px;stroke-linejoin:round">E</tspan><tspan x="793.4" textLength="23" lengthAdjust="spacingAndGlyphs" style="stroke:#000;stroke-width:1.6px">1</tspan><tspan x="820.3" textLength="27" lengthAdjust="spacingAndGlyphs" style="stroke:#000;stroke-width:1px">5</tspan><tspan x="849.2" textLength="27" lengthAdjust="spacingAndGlyphs" style="stroke:#000;stroke-width:1px">8</tspan><tspan x="875.9">.</tspan> <tspan x="907.1" textLength="27" lengthAdjust="spacingAndGlyphs" style="stroke:#000;stroke-width:1px">3</tspan><tspan x="936" textLength="27" lengthAdjust="spacingAndGlyphs" style="stroke:#000;stroke-width:1px">2</tspan><tspan x="962.7">.</tspan> <tspan x="993.9" textLength="27" lengthAdjust="spacingAndGlyphs" style="stroke:#000;stroke-width:1px">3</tspan><tspan x="1022.8" textLength="27" lengthAdjust="spacingAndGlyphs" style="stroke:#000;stroke-width:1px">2</tspan><tspan x="1051.7" textLength="27" lengthAdjust="spacingAndGlyphs" style="stroke:#000;stroke-width:1px">3</tspan></text>
</g>
</svg></body></html>
